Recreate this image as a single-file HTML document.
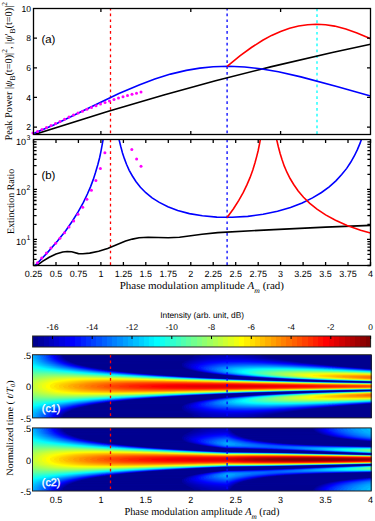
<!DOCTYPE html><html><head><meta charset="utf-8"><style>html,body{margin:0;padding:0;background:#fff}body{width:375px;height:521px;position:relative;overflow:hidden}.hm{position:absolute;left:32px;width:340px}.hm div{height:1px}svg{position:absolute;left:0;top:0;text-rendering:geometricPrecision}text{font-family:"Liberation Sans",sans-serif}.sf{font-family:"Liberation Serif",serif;stroke:none}</style></head><body>
<div class="hm" style="top:355px"><div style="background:linear-gradient(90deg,#00afff 0.5px,#00afff 1.5px,#009fff 2.5px,#009fff 3.5px,#008fff 4.5px,#008fff 5.5px,#0080ff 6.5px,#0080ff 7.5px,#0070ff 8.5px,#0070ff 9.5px,#0060ff 10.5px,#0060ff 11.5px,#0050ff 12.5px,#0050ff 13.5px,#0033ff 15.5px,#0030ff 16.5px,#0020ff 17.5px,#0020ff 18.5px,#0000ff 20.5px,#0000ff 21.5px,#0000e2 23.5px,#0000df 24.5px,#0000bf 26.5px,#0000bf 27.5px,#000093 30.5px,#00008f 161.5px,#00009f 163.5px,#00009f 168.5px,#0000af 169.5px,#0000b2 178.5px,#0000bf 181.5px,#0000bf 210.5px,#0000af 213.5px,#0000af 221.5px,#00009f 223.5px,#00009f 228.5px,#00008f 230.5px,#00008f 339.5px)"></div><div style="background:linear-gradient(90deg,#00b2ff 0.5px,#009cff 4.5px,#0063ff 10.5px,#0060ff 11.5px,#0050ff 12.5px,#0050ff 13.5px,#0040ff 14.5px,#0040ff 15.5px,#0026ff 17.5px,#0010ff 19.5px,#0010ff 20.5px,#0000ff 21.5px,#0000ef 22.5px,#0000ef 23.5px,#0000cf 25.5px,#0000cf 26.5px,#0000a6 29.5px,#00008f 31.5px,#00008f 160.5px,#00009f 162.5px,#00009f 166.5px,#0000af 168.5px,#0000b6 176.5px,#0000bf 180.5px,#0000bc 213.5px,#0000af 219.5px,#0000a9 224.5px,#00009f 228.5px,#000099 231.5px,#00008f 235.5px,#00008f 339.5px)"></div><div style="background:linear-gradient(90deg,#00bfff 0.5px,#00afff 1.5px,#00afff 2.5px,#009fff 3.5px,#009fff 4.5px,#008fff 5.5px,#008fff 6.5px,#0080ff 7.5px,#0080ff 8.5px,#0070ff 9.5px,#0070ff 10.5px,#0060ff 11.5px,#0060ff 12.5px,#0049ff 14.5px,#0033ff 16.5px,#0030ff 17.5px,#0020ff 18.5px,#0010ff 20.5px,#0000ff 22.5px,#0000e6 24.5px,#0000af 29.5px,#000096 31.5px,#00008f 35.5px,#000093 159.5px,#00009f 161.5px,#0000a6 165.5px,#0000af 169.5px,#0000b9 173.5px,#0000cf 194.5px,#0000c6 209.5px,#0000b6 221.5px,#00009c 234.5px,#00008f 238.5px,#00008f 339.5px)"></div><div style="background:linear-gradient(90deg,#00bfff 0.5px,#0050ff 14.5px,#0030ff 18.5px,#001aff 20.5px,#0003ff 22.5px,#0000ef 24.5px,#00008f 33.5px,#000093 157.5px,#00009f 159.5px,#0000a9 163.5px,#0000bf 173.5px,#0000cf 184.5px,#0000d2 204.5px,#0000c9 218.5px,#00009c 238.5px,#00008f 246.5px,#00008f 339.5px)"></div><div style="background:linear-gradient(90deg,#00bfff 0.5px,#00bfff 1.5px,#009fff 5.5px,#0050ff 15.5px,#0000fc 24.5px,#00008f 34.5px,#000093 155.5px,#00009f 157.5px,#0000a6 160.5px,#0000b9 166.5px,#0000d2 178.5px,#0000e2 194.5px,#0000dc 215.5px,#0000c2 231.5px,#00008f 250.5px,#00008f 339.5px)"></div><div style="background:linear-gradient(90deg,#00cfff 0.5px,#00bfff 1.5px,#00b6ff 3.5px,#009cff 7.5px,#000dff 24.5px,#0000f9 26.5px,#00008f 36.5px,#000093 153.5px,#0000b2 161.5px,#0000df 177.5px,#0000f2 197.5px,#0000f2 213.5px,#0000e9 219.5px,#0000cc 235.5px,#0000af 246.5px,#00008f 256.5px,#00008f 339.5px)"></div><div style="background:linear-gradient(90deg,#00cfff 0.5px,#00cfff 1.5px,#00bfff 3.5px,#0059ff 17.5px,#0003ff 27.5px,#0000a3 36.5px,#00008f 38.5px,#00008f 151.5px,#00009f 153.5px,#0000a3 155.5px,#0000af 157.5px,#0000e9 175.5px,#0003ff 192.5px,#0006ff 212.5px,#0000f5 229.5px,#0000cf 245.5px,#00008f 264.5px,#00008f 339.5px)"></div><div style="background:linear-gradient(90deg,#00dcff 0.5px,#00bfff 4.5px,#00b6ff 6.5px,#0053ff 20.5px,#0006ff 29.5px,#0000d9 33.5px,#000093 40.5px,#00008f 150.5px,#00009f 152.5px,#00009f 153.5px,#0000af 155.5px,#0000b6 157.5px,#0000bf 159.5px,#0000ef 172.5px,#0003ff 180.5px,#001aff 195.5px,#0020ff 215.5px,#001aff 219.5px,#000dff 231.5px,#0000f2 243.5px,#0000cc 257.5px,#0000bc 260.5px,#0000ac 265.5px,#000096 269.5px,#00008f 287.5px,#00008f 339.5px)"></div><div style="background:linear-gradient(90deg,#00e2ff 0.5px,#00afff 9.5px,#0056ff 22.5px,#0003fc 32.5px,#0000c6 38.5px,#000093 43.5px,#00008f 149.5px,#00009f 150.5px,#0000a3 152.5px,#0000af 153.5px,#0000b6 155.5px,#0000bf 157.5px,#0000f5 170.5px,#000aff 176.5px,#0029ff 191.5px,#0039ff 207.5px,#0033ff 226.5px,#0016ff 243.5px,#0003f9 254.5px,#0000ec 259.5px,#0000dc 262.5px,#0000a6 275.5px,#00008f 282.5px,#00008f 339.5px)"></div><div style="background:linear-gradient(90deg,#00efff 0.5px,#0096ff 16.5px,#0076ff 21.5px,#0056ff 25.5px,#0006fc 35.5px,#0000dc 39.5px,#00009c 45.5px,#00008f 48.5px,#00008f 149.5px,#00009f 150.5px,#00009f 151.5px,#0000af 152.5px,#0000b6 154.5px,#0000cf 158.5px,#0000d9 160.5px,#0000ff 169.5px,#0036ff 186.5px,#0049ff 198.5px,#0056ff 211.5px,#0050ff 231.5px,#0046ff 237.5px,#0036ff 246.5px,#001aff 258.5px,#0003f5 267.5px,#0000d6 276.5px,#000099 288.5px,#00008f 296.5px,#00008f 339.5px)"></div><div style="background:linear-gradient(90deg,#00fcff 0.5px,#009cff 18.5px,#0053ff 29.5px,#0003fc 39.5px,#0000cf 44.5px,#000096 50.5px,#00008f 54.5px,#00008f 149.5px,#00009f 150.5px,#00009f 151.5px,#0000af 152.5px,#0000af 153.5px,#0000bf 154.5px,#0000bf 156.5px,#0000cf 157.5px,#0000cf 158.5px,#0000df 160.5px,#0000df 161.5px,#0000ef 163.5px,#0000ef 164.5px,#0000ff 166.5px,#000aff 168.5px,#004cff 187.5px,#0069ff 202.5px,#0076ff 216.5px,#0073ff 236.5px,#006cff 240.5px,#0043ff 260.5px,#0020ff 271.5px,#000afc 278.5px,#0000d2 288.5px,#0000a3 296.5px,#00008f 304.5px,#00008f 339.5px)"></div><div style="background:linear-gradient(90deg,#06fff9 0.5px,#00f5ff 4.5px,#00b6ff 18.5px,#005cff 32.5px,#0006fc 43.5px,#0000e9 46.5px,#000099 54.5px,#00008f 58.5px,#00008f 149.5px,#0000bf 155.5px,#0000cf 157.5px,#0000cf 158.5px,#0000df 159.5px,#0000df 160.5px,#0000ef 162.5px,#0000ef 163.5px,#0000ff 164.5px,#0003ff 166.5px,#0010ff 167.5px,#0013ff 169.5px,#0043ff 179.5px,#0079ff 196.5px,#0080ff 200.5px,#0099ff 218.5px,#0099ff 237.5px,#007cff 257.5px,#0053ff 273.5px,#0013fc 290.5px,#000af5 292.5px,#0003ec 296.5px,#0000df 298.5px,#0000df 299.5px,#0000cf 300.5px,#0000c6 302.5px,#0000bf 304.5px,#0000af 305.5px,#0000af 306.5px,#0000a3 307.5px,#00008f 315.5px,#00008f 339.5px)"></div><div style="background:linear-gradient(90deg,#13ffec 0.5px,#00f9ff 7.5px,#00bfff 20.5px,#0063ff 36.5px,#0006fc 48.5px,#0000df 52.5px,#000099 59.5px,#00008f 63.5px,#00008f 150.5px,#0000ef 162.5px,#0000ef 163.5px,#0000ff 164.5px,#0000ff 165.5px,#0010ff 166.5px,#0010ff 168.5px,#0020ff 169.5px,#0023ff 171.5px,#0030ff 172.5px,#0036ff 174.5px,#0040ff 176.5px,#0079ff 189.5px,#00a6ff 205.5px,#00bfff 225.5px,#00bfff 245.5px,#00afff 259.5px,#0079ff 280.5px,#0060ff 287.5px,#0056ff 289.5px,#0050ff 292.5px,#0040ff 294.5px,#0039ff 296.5px,#0030ff 298.5px,#0030ff 299.5px,#0020ff 300.5px,#0020ff 302.5px,#0013fc 303.5px,#000af5 307.5px,#0000c6 315.5px,#000099 322.5px,#00008f 330.5px,#00008f 339.5px)"></div><div style="background:linear-gradient(90deg,#20ffdf 0.5px,#00fcff 11.5px,#00d6ff 21.5px,#0093ff 34.5px,#004cff 45.5px,#000af9 54.5px,#0000dc 58.5px,#000099 65.5px,#00008f 71.5px,#00008f 152.5px,#0000ff 165.5px,#0010ff 167.5px,#0010ff 168.5px,#0020ff 170.5px,#0030ff 172.5px,#0030ff 173.5px,#0040ff 174.5px,#0040ff 176.5px,#0050ff 177.5px,#0053ff 179.5px,#0060ff 180.5px,#0063ff 182.5px,#0070ff 184.5px,#0079ff 186.5px,#00b6ff 202.5px,#00d9ff 218.5px,#00e9ff 230.5px,#00e9ff 254.5px,#00c6ff 276.5px,#00a6ff 287.5px,#009cff 291.5px,#008fff 292.5px,#008fff 295.5px,#0080ff 296.5px,#0080ff 299.5px,#0070ff 300.5px,#0070ff 302.5px,#0060ff 304.5px,#0059ff 306.5px,#0016fc 318.5px,#0003e6 324.5px,#0000a9 332.5px,#000093 339.5px)"></div><div style="background:linear-gradient(90deg,#2dffd2 0.5px,#03fcfc 17.5px,#00efff 21.5px,#00b2ff 35.5px,#0080ff 44.5px,#0023ff 57.5px,#000af5 61.5px,#0000dc 65.5px,#0000bf 67.5px,#0000bf 68.5px,#0000a3 70.5px,#000099 72.5px,#00008f 76.5px,#000093 155.5px,#0000a3 157.5px,#0000e6 164.5px,#0000fc 167.5px,#0040ff 175.5px,#0040ff 176.5px,#0050ff 178.5px,#0060ff 180.5px,#0060ff 181.5px,#0070ff 183.5px,#0070ff 184.5px,#0080ff 185.5px,#0080ff 187.5px,#008fff 189.5px,#0099ff 191.5px,#00d6ff 207.5px,#00e9ff 213.5px,#03fcfc 222.5px,#13ffec 239.5px,#1dffe2 249.5px,#0dfcf2 274.5px,#03f2fc 284.5px,#03ecfc 288.5px,#00dfff 292.5px,#00d9ff 295.5px,#00cfff 297.5px,#00cfff 299.5px,#00bfff 301.5px,#00b9ff 304.5px,#00afff 306.5px,#00a9ff 308.5px,#009fff 310.5px,#003dff 328.5px,#001af9 333.5px,#0006e2 339.5px)"></div><div style="background:linear-gradient(90deg,#39ffc6 0.5px,#1dffe2 14.5px,#00f9ff 26.5px,#00ccff 38.5px,#0073ff 54.5px,#0013fc 67.5px,#0003ec 70.5px,#0003ec 71.5px,#0000cf 73.5px,#0000cf 74.5px,#0000b2 76.5px,#00008f 82.5px,#000093 159.5px,#0000c2 164.5px,#0000dc 166.5px,#0003fc 170.5px,#0059ff 181.5px,#008fff 189.5px,#008fff 190.5px,#009fff 191.5px,#009fff 193.5px,#00afff 194.5px,#00afff 196.5px,#00bfff 197.5px,#00bfff 199.5px,#00cfff 201.5px,#00d2ff 203.5px,#00dfff 205.5px,#03fffc 215.5px,#30ffcf 232.5px,#43ffbc 248.5px,#49ffb6 266.5px,#39ffc6 285.5px,#30ffcf 291.5px,#20ffdf 296.5px,#20ffdf 300.5px,#13fcec 301.5px,#13fcec 305.5px,#0af5f5 309.5px,#00d2ff 320.5px,#0093ff 332.5px,#007cff 336.5px,#006cff 339.5px)"></div><div style="background:linear-gradient(90deg,#46ffb9 0.5px,#30ffcf 17.5px,#06fcf9 34.5px,#00ecff 40.5px,#00dcff 43.5px,#00a6ff 55.5px,#0050ff 68.5px,#0030ff 72.5px,#0020ff 73.5px,#0020ff 74.5px,#0013fc 75.5px,#0003ec 79.5px,#000099 88.5px,#00008f 94.5px,#000093 163.5px,#0000bc 168.5px,#0000e2 171.5px,#000dff 175.5px,#0066ff 185.5px,#00cfff 201.5px,#00d9ff 203.5px,#00efff 208.5px,#00efff 209.5px,#00ffff 210.5px,#00ffff 212.5px,#10ffef 214.5px,#10ffef 216.5px,#20ffdf 219.5px,#49ffb6 232.5px,#73ff8c 253.5px,#73ff8c 258.5px,#7cff83 264.5px,#7cff83 278.5px,#69ff96 298.5px,#60ff9f 302.5px,#60ff9f 306.5px,#50ffaf 307.5px,#50ffaf 312.5px,#40ffbf 316.5px,#16f9e9 330.5px,#03dffc 339.5px)"></div><div style="background:linear-gradient(90deg,#53ffac 0.5px,#46ffb9 19.5px,#1dffe2 38.5px,#13ffec 40.5px,#00f2ff 49.5px,#00a6ff 65.5px,#0080ff 71.5px,#0080ff 72.5px,#0070ff 73.5px,#0070ff 74.5px,#0060ff 75.5px,#0060ff 76.5px,#0050ff 78.5px,#0016fc 85.5px,#0003e9 89.5px,#0000a6 96.5px,#00008f 102.5px,#000093 169.5px,#0000bf 174.5px,#0000e9 177.5px,#0016ff 181.5px,#008cff 194.5px,#00ecff 208.5px,#00ffff 212.5px,#10ffef 216.5px,#20ffdf 217.5px,#20ffdf 219.5px,#30ffcf 221.5px,#30ffcf 223.5px,#40ffbf 224.5px,#46ffb9 227.5px,#89ff76 248.5px,#a3ff5c 265.5px,#acff53 271.5px,#b2ff4c 290.5px,#a6ff59 305.5px,#9cff63 315.5px,#8fff70 316.5px,#8cff73 322.5px,#59ffa6 339.5px)"></div><div style="background:linear-gradient(90deg,#60ff9f 0.5px,#60ff9f 14.5px,#49ffb6 33.5px,#3dffc2 41.5px,#33ffcc 43.5px,#06f9f9 59.5px,#00cfff 70.5px,#00bfff 72.5px,#00b9ff 74.5px,#00afff 76.5px,#009fff 78.5px,#009fff 79.5px,#008fff 80.5px,#0086ff 82.5px,#0043ff 91.5px,#0016f5 97.5px,#0003df 101.5px,#0000af 106.5px,#00008f 112.5px,#000093 175.5px,#0000a3 178.5px,#0000dc 183.5px,#0013fc 187.5px,#0020fc 188.5px,#0020ff 189.5px,#003dff 191.5px,#0079ff 197.5px,#0099ff 201.5px,#00dfff 210.5px,#06fff9 216.5px,#40ffbf 226.5px,#49ffb6 228.5px,#60ff9f 233.5px,#60ff9f 234.5px,#70ff8f 236.5px,#70ff8f 238.5px,#80ff80 240.5px,#80ff80 242.5px,#8fff70 244.5px,#99ff66 248.5px,#c9ff36 267.5px,#dcff23 280.5px,#e9ff16 298.5px,#e2ff1d 314.5px,#dfff20 324.5px,#cfff30 326.5px,#c9ff36 334.5px,#bcff43 339.5px)"></div><div style="background:linear-gradient(90deg,#70ff8f 0.5px,#73ff8c 22.5px,#63ff9c 40.5px,#2dffd2 62.5px,#0af9f5 73.5px,#00e9ff 79.5px,#00dfff 81.5px,#00dfff 82.5px,#00cfff 83.5px,#00ccff 85.5px,#00bfff 86.5px,#00b6ff 88.5px,#005cff 101.5px,#0020f9 108.5px,#0003d9 114.5px,#0000b9 117.5px,#000096 123.5px,#00008f 132.5px,#000093 183.5px,#0000a9 187.5px,#000ae9 193.5px,#0026fc 197.5px,#005cff 202.5px,#006cff 203.5px,#0070ff 204.5px,#0080ff 205.5px,#008fff 207.5px,#00f2ff 219.5px,#16ffe9 224.5px,#66ff99 237.5px,#9fff60 250.5px,#9fff60 251.5px,#afff50 253.5px,#afff50 255.5px,#bfff40 257.5px,#bfff40 260.5px,#cfff30 262.5px,#d6ff29 265.5px,#fcff03 281.5px,#ffec00 296.5px,#ffe200 302.5px,#ffdf00 331.5px,#fcec03 339.5px)"></div><div style="background:linear-gradient(90deg,#79ff86 0.5px,#89ff76 20.5px,#86ff79 39.5px,#79ff86 51.5px,#53ffac 69.5px,#29ffd6 81.5px,#20ffdf 83.5px,#1dffe2 85.5px,#13fcec 87.5px,#0af5f5 91.5px,#00d2ff 99.5px,#0083ff 111.5px,#0026f9 122.5px,#000de2 126.5px,#0000a6 134.5px,#00008f 140.5px,#000093 193.5px,#0000b9 199.5px,#000de2 203.5px,#002dfc 207.5px,#0056ff 211.5px,#0099ff 217.5px,#009cff 218.5px,#00b6ff 220.5px,#00dcff 224.5px,#03ecfc 226.5px,#13fcec 231.5px,#2dffd2 235.5px,#46ffb9 238.5px,#83ff7c 248.5px,#8cff73 250.5px,#dcff23 268.5px,#efff10 274.5px,#ffff00 277.5px,#fffc00 280.5px,#ffef00 281.5px,#ffef00 285.5px,#ffdf00 288.5px,#ffb600 311.5px,#ffac00 323.5px,#ffa600 336.5px,#ffa600 339.5px)"></div><div style="background:linear-gradient(90deg,#83ff7c 0.5px,#9cff63 16.5px,#a6ff59 32.5px,#9fff60 53.5px,#83ff7c 73.5px,#60ff9f 86.5px,#5cffa3 88.5px,#50ffaf 89.5px,#50ffaf 92.5px,#40ffbf 94.5px,#39ffc6 97.5px,#30ffcf 99.5px,#13f9ec 106.5px,#03dffc 114.5px,#00bcff 120.5px,#0070ff 130.5px,#0060ff 131.5px,#0060ff 132.5px,#0049ff 134.5px,#0023ef 139.5px,#0003c2 146.5px,#0000a6 150.5px,#00008f 157.5px,#000093 205.5px,#0000a9 209.5px,#000dd9 215.5px,#0033f9 220.5px,#0086ff 227.5px,#009cff 229.5px,#00d2ff 234.5px,#10f5ef 240.5px,#40ffbf 248.5px,#50ffaf 249.5px,#50ffaf 250.5px,#60ff9f 252.5px,#70ff8f 254.5px,#70ff8f 255.5px,#89ff76 258.5px,#e2ff1d 275.5px,#fcfc03 282.5px,#fff200 286.5px,#ffe600 288.5px,#ffbf00 301.5px,#ffbc00 303.5px,#ffaf00 305.5px,#ffaf00 309.5px,#ff9f00 311.5px,#ff9f00 316.5px,#ff9300 318.5px,#ff7600 339.5px)"></div><div style="background:linear-gradient(90deg,#8fff70 0.5px,#b9ff46 23.5px,#bfff40 32.5px,#c6ff39 36.5px,#c9ff36 54.5px,#c2ff3d 58.5px,#bcff43 70.5px,#a3ff5c 86.5px,#8fff70 95.5px,#8cff73 97.5px,#80ff80 98.5px,#80ff80 102.5px,#70ff8f 103.5px,#69ff96 107.5px,#1dfce2 125.5px,#03d9fc 135.5px,#00bcff 140.5px,#0046fc 153.5px,#001de2 159.5px,#0000b2 167.5px,#00008f 175.5px,#000093 219.5px,#0003b9 226.5px,#001adc 231.5px,#0043f9 236.5px,#00acff 245.5px,#0ae2f5 251.5px,#10ecef 253.5px,#36ffc9 260.5px,#69ff96 266.5px,#8cff73 272.5px,#9cff63 274.5px,#afff50 277.5px,#afff50 278.5px,#bfff40 279.5px,#c6ff39 281.5px,#ecff13 288.5px,#ffef00 296.5px,#ffbc00 308.5px,#ff9300 322.5px,#ff8000 329.5px,#ff7000 337.5px,#ff7000 339.5px)"></div><div style="background:linear-gradient(90deg,#99ff66 0.5px,#ccff33 23.5px,#e6ff1a 42.5px,#ecff13 73.5px,#dfff20 86.5px,#c6ff39 102.5px,#bfff40 106.5px,#bfff40 108.5px,#afff50 109.5px,#acff53 114.5px,#9fff60 117.5px,#80ff80 127.5px,#5cffa3 136.5px,#39ffc6 142.5px,#1af2e6 151.5px,#0de2f2 155.5px,#00b2ff 163.5px,#0053fc 173.5px,#0039f2 176.5px,#0030e6 178.5px,#000abf 186.5px,#00009f 192.5px,#00008f 199.5px,#000093 236.5px,#0006b9 244.5px,#0023dc 250.5px,#0059f5 256.5px,#0086ff 260.5px,#06cff9 267.5px,#13e9ec 271.5px,#26f5d9 275.5px,#40fcbf 278.5px,#8cff73 289.5px,#9cff63 291.5px,#d9ff26 301.5px,#f5f50a 308.5px,#f9ec06 310.5px,#fcec03 312.5px,#fcdf03 313.5px,#ffdf00 315.5px,#ffcf00 317.5px,#ffcf00 319.5px,#ffc200 320.5px,#ffbc00 323.5px,#ffb200 325.5px,#ffa300 330.5px,#ff9600 332.5px,#ff8600 339.5px)"></div><div style="background:linear-gradient(90deg,#9fff60 0.5px,#bfff40 10.5px,#f9ff06 36.5px,#ffec00 64.5px,#ffe600 84.5px,#f9f506 107.5px,#f5fc0a 115.5px,#ecfc13 117.5px,#e9fc16 123.5px,#dfff20 125.5px,#d6ff29 131.5px,#a9ff56 145.5px,#76ff89 158.5px,#50ffaf 166.5px,#40ffbf 168.5px,#40fcbf 169.5px,#33fccc 170.5px,#30f9cf 172.5px,#26f5d9 174.5px,#0dd6f2 182.5px,#06c6f9 185.5px,#06b9f9 186.5px,#03b9fc 187.5px,#0083ff 193.5px,#0049f2 199.5px,#0030df 203.5px,#0026d9 205.5px,#000dbc 211.5px,#00009c 219.5px,#00008f 225.5px,#000093 258.5px,#0006b2 265.5px,#0020cc 271.5px,#0053ec 278.5px,#008cff 284.5px,#10c6ef 290.5px,#23e6dc 295.5px,#5cffa3 305.5px,#8cff73 311.5px,#bfff40 319.5px,#c9ff36 321.5px,#ecf213 329.5px,#fcd603 339.5px)"></div><div style="background:linear-gradient(90deg,#acff53 0.5px,#b6ff49 4.5px,#dfff20 17.5px,#fffc00 31.5px,#ffd600 52.5px,#ffbc00 78.5px,#ffbc00 111.5px,#ffc200 115.5px,#ffcc00 123.5px,#ffd200 132.5px,#ffdf00 134.5px,#fce603 142.5px,#ecf513 156.5px,#dffc20 163.5px,#b2ff4c 176.5px,#9cff63 182.5px,#8fff70 183.5px,#8fff70 185.5px,#80ff80 186.5px,#79ff86 189.5px,#3df9c2 200.5px,#23e9dc 206.5px,#10ccef 212.5px,#039ffc 219.5px,#0089ff 221.5px,#0070f5 225.5px,#0059ef 227.5px,#0023cc 236.5px,#0006af 244.5px,#00008f 255.5px,#000093 284.5px,#0006af 292.5px,#0029cc 300.5px,#0066e9 309.5px,#0386ef 313.5px,#10a9ef 318.5px,#23d2dc 324.5px,#43efbc 331.5px,#50f2af 332.5px,#63fc9c 336.5px,#73ff8c 339.5px)"></div><div style="background:linear-gradient(90deg,#afff50 0.5px,#b9ff46 2.5px,#c6ff39 6.5px,#ffff00 24.5px,#ffc200 49.5px,#ffa600 67.5px,#ff8c00 94.5px,#ff8c00 129.5px,#ff9900 143.5px,#ff9f00 147.5px,#ffa300 154.5px,#ffaf00 155.5px,#ffb600 164.5px,#fcd903 180.5px,#f2ef0d 192.5px,#e2f51d 199.5px,#d6fc29 204.5px,#ccfc33 206.5px,#c9ff36 208.5px,#bfff40 210.5px,#83ff7c 223.5px,#79ff86 225.5px,#6cff93 226.5px,#66ff99 228.5px,#53fcac 232.5px,#30e6cf 240.5px,#16c2e9 248.5px,#0da9f2 252.5px,#068ff5 255.5px,#0040d6 268.5px,#0026c6 273.5px,#0003a9 284.5px,#00008f 295.5px,#000093 319.5px,#0003a6 325.5px,#001dbc 334.5px,#0033c9 339.5px)"></div><div style="background:linear-gradient(90deg,#afff50 0.5px,#bfff40 2.5px,#c2ff3d 4.5px,#cfff30 6.5px,#dfff20 11.5px,#e6ff1a 13.5px,#efff10 15.5px,#ffff00 20.5px,#ffef00 25.5px,#ffa300 55.5px,#ff8600 71.5px,#ff7600 83.5px,#ff5c00 110.5px,#ff5900 120.5px,#ff5900 149.5px,#ff6900 167.5px,#ff7000 171.5px,#ff7300 179.5px,#ff8000 182.5px,#ff8c00 193.5px,#ffbf00 216.5px,#fcd203 224.5px,#e9ec16 238.5px,#c2fc3d 251.5px,#bffc40 253.5px,#acff53 257.5px,#73ff8c 268.5px,#50f2af 276.5px,#39e2c6 282.5px,#26ccd9 288.5px,#13a3ec 295.5px,#067ce2 303.5px,#0369df 307.5px,#0036c9 318.5px,#0010b2 329.5px,#0000a3 339.5px)"></div><div style="background:linear-gradient(90deg,#bfff40 0.5px,#c2ff3d 3.5px,#cfff30 4.5px,#d6ff29 7.5px,#dfff20 9.5px,#e6ff1a 11.5px,#efff10 13.5px,#f2ff0d 15.5px,#ffff00 17.5px,#ffff00 19.5px,#ffef00 21.5px,#ffe600 25.5px,#ffd600 30.5px,#ff8600 60.5px,#ff4900 95.5px,#ff4600 102.5px,#ff4000 106.5px,#ff2d00 133.5px,#ff2900 163.5px,#ff3000 178.5px,#ff3900 193.5px,#ff4000 197.5px,#ff4600 206.5px,#ff5000 208.5px,#ff5600 218.5px,#ff6000 222.5px,#ff8300 242.5px,#ffa900 260.5px,#ffb200 262.5px,#ffbc00 266.5px,#fccc03 274.5px,#f5d90a 280.5px,#f2d90d 282.5px,#efe210 284.5px,#e9e616 288.5px,#dfec20 292.5px,#bff940 304.5px,#b2fc4c 308.5px,#a9fc56 310.5px,#96ff69 316.5px,#80ff80 320.5px,#70f98f 325.5px,#63f59c 327.5px,#43dfbc 337.5px,#43d9bc 339.5px)"></div><div style="background:linear-gradient(90deg,#bfff40 0.5px,#bfff40 2.5px,#cfff30 3.5px,#d2ff2d 6.5px,#dfff20 7.5px,#e6ff1a 10.5px,#efff10 12.5px,#f5ff0a 14.5px,#ffff00 16.5px,#fffc00 18.5px,#ffef00 19.5px,#ffef00 22.5px,#ffdf00 24.5px,#ffdc00 27.5px,#ffcf00 29.5px,#ffc900 32.5px,#ffbc00 37.5px,#ffaf00 39.5px,#ffa600 43.5px,#ff9600 49.5px,#ff6000 73.5px,#ff3000 100.5px,#ff2300 113.5px,#ff1a00 119.5px,#ff0600 145.5px,#fc0600 198.5px,#ff1d00 232.5px,#ff2900 244.5px,#ff3000 248.5px,#ff3900 256.5px,#ff4000 260.5px,#ff4300 266.5px,#ff5000 270.5px,#ff5900 279.5px,#ff6300 283.5px,#ff8300 300.5px,#ff9c00 313.5px,#ffb200 323.5px,#f9cc06 336.5px,#f9cf06 339.5px)"></div><div style="background:linear-gradient(90deg,#bfff40 0.5px,#c2ff3d 2.5px,#cfff30 3.5px,#cfff30 5.5px,#dfff20 6.5px,#dfff20 9.5px,#efff10 10.5px,#efff10 13.5px,#ffff00 14.5px,#ffff00 17.5px,#ffef00 18.5px,#ffef00 21.5px,#ffdf00 23.5px,#ffdf00 26.5px,#ffcf00 27.5px,#ffc900 31.5px,#ffbf00 33.5px,#ffbf00 35.5px,#ffaf00 37.5px,#ffa900 41.5px,#ff9f00 43.5px,#ff9f00 46.5px,#ff8f00 48.5px,#ff8c00 52.5px,#ff8000 54.5px,#ff7c00 58.5px,#ff7000 60.5px,#ff7000 64.5px,#ff6000 68.5px,#ff5900 72.5px,#ff5000 76.5px,#ff4600 80.5px,#ff3900 88.5px,#ff3000 94.5px,#ff2600 98.5px,#ff1a00 108.5px,#ff1000 116.5px,#ff0000 130.5px,#ef0000 152.5px,#e20000 188.5px,#ec0000 226.5px,#ff0600 263.5px,#ff0d00 272.5px,#ff1300 276.5px,#ff3d00 312.5px,#ff4600 318.5px,#ff4c00 323.5px,#ff5300 327.5px,#ff5600 333.5px,#ff6300 338.5px,#ff6300 339.5px)"></div><div style="background:linear-gradient(90deg,#bfff40 0.5px,#bfff40 1.5px,#cfff30 3.5px,#cfff30 5.5px,#dfff20 6.5px,#dfff20 9.5px,#efff10 10.5px,#efff10 13.5px,#ffff00 14.5px,#ffff00 17.5px,#ffef00 18.5px,#ffef00 21.5px,#ffdf00 22.5px,#ffdf00 26.5px,#ffcf00 27.5px,#ffcf00 30.5px,#ffbf00 31.5px,#ffbf00 35.5px,#ffaf00 36.5px,#ffaf00 40.5px,#ff9f00 41.5px,#ff9f00 46.5px,#ff8f00 47.5px,#ff8f00 51.5px,#ff8000 53.5px,#ff8000 57.5px,#ff7000 59.5px,#ff7000 64.5px,#ff6000 65.5px,#ff6000 71.5px,#ff5000 72.5px,#ff5000 78.5px,#ff4000 80.5px,#ff4000 86.5px,#ff3000 88.5px,#ff2d00 96.5px,#ff2000 97.5px,#ff2000 106.5px,#ff1000 108.5px,#ff1000 118.5px,#ff0000 120.5px,#fc0000 133.5px,#f20000 135.5px,#ef0000 153.5px,#e60000 155.5px,#df0000 173.5px,#e20000 233.5px,#ec0000 238.5px,#f50000 261.5px,#ff0000 265.5px,#ff0600 280.5px,#ff1000 284.5px,#ff1600 297.5px,#ff2000 301.5px,#ff2600 312.5px,#ff3300 317.5px,#ff3600 326.5px,#ff4300 331.5px,#ff4600 339.5px)"></div><div style="background:linear-gradient(90deg,#bfff40 0.5px,#bfff40 2.5px,#cfff30 3.5px,#cfff30 5.5px,#dfff20 7.5px,#dfff20 9.5px,#efff10 10.5px,#efff10 13.5px,#ffff00 14.5px,#ffff00 17.5px,#ffef00 19.5px,#ffe900 22.5px,#ffdf00 24.5px,#ffdf00 26.5px,#ffcf00 28.5px,#ffcf00 31.5px,#ffbf00 32.5px,#ffbc00 36.5px,#ffaf00 38.5px,#ffaf00 41.5px,#ff9f00 43.5px,#ff9900 47.5px,#ff8f00 51.5px,#ff8000 56.5px,#ff7900 59.5px,#ff7000 63.5px,#ff6900 66.5px,#ff6000 70.5px,#ff5600 74.5px,#ff4000 86.5px,#ff3000 96.5px,#ff2000 107.5px,#ff0300 132.5px,#ec0000 182.5px,#fc0600 240.5px,#ff1d00 266.5px,#ff2900 279.5px,#ff3300 285.5px,#ff3900 290.5px,#ff4000 294.5px,#ff4900 301.5px,#ff5000 305.5px,#ff5900 312.5px,#ff6000 316.5px,#ff7600 331.5px,#ff7600 333.5px,#ff8300 335.5px,#ff8300 339.5px)"></div><div style="background:linear-gradient(90deg,#bfff40 0.5px,#bfff40 2.5px,#cfff30 4.5px,#cfff30 6.5px,#dfff20 7.5px,#dfff20 10.5px,#efff10 11.5px,#efff10 14.5px,#ffff00 16.5px,#ffff00 18.5px,#ffef00 20.5px,#ffec00 23.5px,#ffdf00 25.5px,#ffd900 28.5px,#ffc900 33.5px,#ffb600 39.5px,#ff8f00 53.5px,#ff5300 82.5px,#ff3300 105.5px,#ff2000 125.5px,#ff1a00 129.5px,#ff0d00 170.5px,#ff1d00 206.5px,#ff2300 210.5px,#ff2900 219.5px,#ff3000 223.5px,#ff3600 231.5px,#ff4000 235.5px,#ff4600 243.5px,#ff5000 247.5px,#ff5900 256.5px,#ff6300 258.5px,#ff7300 268.5px,#ff8c00 282.5px,#ff9c00 288.5px,#ffbf00 303.5px,#f5d20a 313.5px,#f2d90d 317.5px,#dcec23 330.5px,#ccf533 339.5px)"></div><div style="background:linear-gradient(90deg,#b9ff46 0.5px,#bfff40 3.5px,#cfff30 5.5px,#cfff30 7.5px,#dfff20 9.5px,#dfff20 11.5px,#efff10 13.5px,#f5ff0a 16.5px,#fffc00 20.5px,#ffef00 23.5px,#ffdf00 28.5px,#ff8c00 60.5px,#ff5600 94.5px,#ff3d00 128.5px,#ff3d00 160.5px,#ff4c00 180.5px,#ff5600 193.5px,#ff6000 195.5px,#ff6600 205.5px,#ff7300 210.5px,#ff8000 218.5px,#ff9f00 234.5px,#ffbc00 245.5px,#f5d90a 258.5px,#ece213 264.5px,#dfec20 270.5px,#cff930 278.5px,#c6f939 280.5px,#a6ff59 289.5px,#86ff79 295.5px,#7cff83 297.5px,#63f59c 304.5px,#56f2a9 306.5px,#29c9d6 320.5px,#1da6e2 326.5px,#0d8fdf 333.5px,#0a73dc 339.5px)"></div><div style="background:linear-gradient(90deg,#afff50 0.5px,#bfff40 2.5px,#c6ff39 5.5px,#cfff30 7.5px,#d2ff2d 9.5px,#dfff20 11.5px,#dfff20 13.5px,#efff10 16.5px,#fffc00 23.5px,#ffb600 49.5px,#ff9600 67.5px,#ff8600 79.5px,#ff7300 100.5px,#ff6c00 113.5px,#ff6c00 139.5px,#ff7300 148.5px,#ff7900 154.5px,#ff8000 158.5px,#ff8300 166.5px,#ff8f00 169.5px,#ff9600 177.5px,#ffaf00 190.5px,#f9e206 212.5px,#e9f216 221.5px,#dff220 225.5px,#d2f92d 229.5px,#b2ff4c 238.5px,#99ff66 243.5px,#99ff66 244.5px,#8cff73 245.5px,#79ff86 249.5px,#50f5af 258.5px,#26d6d9 268.5px,#0da3f2 277.5px,#005cdf 289.5px,#0050d6 292.5px,#0029c2 300.5px,#0010b6 307.5px,#0000a6 314.5px,#00008f 325.5px,#00008f 339.5px)"></div><div style="background:linear-gradient(90deg,#afff50 0.5px,#bfff40 5.5px,#ffff00 25.5px,#ffc600 52.5px,#ffa300 82.5px,#ffa300 87.5px,#ff9c00 91.5px,#ffa300 126.5px,#ffaf00 137.5px,#ffaf00 142.5px,#ffbf00 144.5px,#ffc600 153.5px,#ffd200 158.5px,#f2ef0d 176.5px,#d2fc2d 189.5px,#ccff33 192.5px,#bfff40 194.5px,#b9ff46 196.5px,#afff50 198.5px,#96ff69 204.5px,#89ff76 206.5px,#83ff7c 208.5px,#46f9b9 219.5px,#30eccf 225.5px,#26e2d9 227.5px,#16cce9 232.5px,#0daff2 236.5px,#0aaff5 237.5px,#068ff9 240.5px,#0386f5 242.5px,#0030cf 255.5px,#0010b9 263.5px,#00009f 271.5px,#00008f 278.5px,#000093 304.5px,#0006a9 311.5px,#0020bf 319.5px,#0040d2 325.5px,#0069e2 331.5px,#0d99e9 339.5px)"></div><div style="background:linear-gradient(90deg,#a6ff59 0.5px,#b6ff49 5.5px,#ecff13 24.5px,#fffc00 34.5px,#ffe600 49.5px,#ffd200 68.5px,#ffcc00 86.5px,#ffd900 113.5px,#ffe600 123.5px,#fcec03 127.5px,#fcec03 131.5px,#f5f50a 135.5px,#e2fc1d 147.5px,#afff50 163.5px,#99ff66 169.5px,#8cff73 171.5px,#8cff73 172.5px,#80ff80 173.5px,#70ff8f 178.5px,#4cffb2 184.5px,#23efdc 193.5px,#06b6f9 204.5px,#008cff 209.5px,#007cff 210.5px,#004cec 216.5px,#0040df 219.5px,#0029d6 222.5px,#0010bf 228.5px,#00009f 236.5px,#00008f 243.5px,#000093 273.5px,#0006af 280.5px,#0016c2 285.5px,#0049df 293.5px,#0693f9 302.5px,#0aa9f5 304.5px,#23d9dc 311.5px,#53f9ac 320.5px,#8cff73 329.5px,#a6ff59 332.5px,#a6ff59 333.5px,#b6ff49 335.5px,#c9fc36 339.5px)"></div><div style="background:linear-gradient(90deg,#9fff60 0.5px,#d9ff26 23.5px,#f9ff06 44.5px,#fcf503 84.5px,#effc10 100.5px,#e6ff1a 108.5px,#dfff20 112.5px,#dfff20 115.5px,#cfff30 116.5px,#cfff30 121.5px,#bfff40 125.5px,#8cff73 141.5px,#56ffa9 153.5px,#33fccc 159.5px,#30f9cf 161.5px,#26f9d9 163.5px,#06cff9 173.5px,#009cff 180.5px,#0060fc 186.5px,#0023d6 195.5px,#000dc2 200.5px,#00009c 208.5px,#00008f 214.5px,#000093 249.5px,#0006b2 256.5px,#0026d9 263.5px,#0049e6 267.5px,#0063f5 270.5px,#0096ff 275.5px,#06c2f9 279.5px,#29efd6 287.5px,#30f5cf 289.5px,#3df9c2 290.5px,#3df9c2 291.5px,#5cffa3 295.5px,#acff53 306.5px,#bcff43 308.5px,#bcff43 309.5px,#ccff33 311.5px,#f2ef0d 321.5px,#ffd200 330.5px,#ffc200 333.5px,#ffb900 335.5px,#ffaf00 339.5px)"></div><div style="background:linear-gradient(90deg,#93ff6c 0.5px,#9fff60 4.5px,#c9ff36 26.5px,#d9ff26 42.5px,#d9ff26 73.5px,#b2ff4c 97.5px,#acff53 102.5px,#9fff60 103.5px,#9cff63 108.5px,#8fff70 109.5px,#8cff73 113.5px,#7cff83 117.5px,#4cffb2 129.5px,#2dffd2 135.5px,#0decf2 144.5px,#06d9f9 148.5px,#03ccfc 149.5px,#00b9ff 153.5px,#0053fc 164.5px,#0046f9 166.5px,#0036ef 168.5px,#0013cf 174.5px,#0000a3 182.5px,#00008f 190.5px,#000093 229.5px,#0000a3 233.5px,#000ac6 238.5px,#0026df 243.5px,#0060fc 249.5px,#00b9ff 257.5px,#0ddcf2 261.5px,#26f9d9 267.5px,#3dffc2 270.5px,#3dffc2 271.5px,#8cff73 281.5px,#bcff43 289.5px,#ccff33 291.5px,#ccff33 292.5px,#dcff23 294.5px,#f5f50a 301.5px,#fcec03 305.5px,#ffe200 307.5px,#ffd200 311.5px,#ffac00 320.5px,#ffa600 323.5px,#ff9c00 325.5px,#ff7600 338.5px,#ff7600 339.5px)"></div><div style="background:linear-gradient(90deg,#8cff73 0.5px,#b6ff49 27.5px,#b9ff46 54.5px,#b2ff4c 58.5px,#9fff60 75.5px,#7cff83 92.5px,#70ff8f 93.5px,#70ff8f 97.5px,#60ff9f 98.5px,#59ffa6 102.5px,#50ffaf 104.5px,#16f9e9 118.5px,#03dffc 126.5px,#00acff 134.5px,#0059ff 143.5px,#0030f5 148.5px,#0010d2 154.5px,#0000ac 160.5px,#00008f 167.5px,#000093 213.5px,#0000ac 218.5px,#0013d9 224.5px,#003df9 229.5px,#008cff 236.5px,#03d6fc 243.5px,#13f2ec 248.5px,#3dffc2 255.5px,#5cffa3 259.5px,#8fff70 266.5px,#8fff70 267.5px,#9fff60 269.5px,#e9ff16 282.5px,#fcf203 290.5px,#ffb200 308.5px,#ff9f00 316.5px,#ff9300 318.5px,#ff8f00 323.5px,#ff8000 325.5px,#ff8000 330.5px,#ff7000 334.5px,#ff7000 339.5px)"></div><div style="background:linear-gradient(90deg,#80ff80 0.5px,#96ff69 18.5px,#96ff69 44.5px,#83ff7c 61.5px,#73ff8c 70.5px,#50ffaf 82.5px,#40ffbf 87.5px,#40ffbf 88.5px,#30ffcf 89.5px,#30ffcf 92.5px,#20ffdf 94.5px,#20fcdf 96.5px,#13fcec 98.5px,#03e2fc 106.5px,#00bcff 113.5px,#0060ff 125.5px,#0050ff 126.5px,#0050ff 127.5px,#0040ff 128.5px,#0033fc 130.5px,#0026f9 131.5px,#001def 133.5px,#0003c6 139.5px,#000096 147.5px,#00008f 156.5px,#000093 200.5px,#0000b2 205.5px,#000ddf 210.5px,#0033fc 215.5px,#00b2ff 226.5px,#00d9ff 230.5px,#0af5f5 235.5px,#13fcec 237.5px,#20fcdf 238.5px,#29ffd6 240.5px,#49ffb6 244.5px,#a9ff56 260.5px,#ffff00 280.5px,#ffdf00 289.5px,#ffdc00 291.5px,#ffcf00 293.5px,#ffc900 297.5px,#ffbf00 299.5px,#ffbc00 303.5px,#ffaf00 307.5px,#ff9c00 317.5px,#ff8c00 334.5px,#ff8600 339.5px)"></div><div style="background:linear-gradient(90deg,#73ff8c 0.5px,#83ff7c 20.5px,#76ff89 40.5px,#60ff9f 54.5px,#43ffbc 66.5px,#1affe6 78.5px,#13fcec 81.5px,#0af5f5 83.5px,#0af5f5 85.5px,#03ecfc 87.5px,#03ecfc 88.5px,#00dfff 89.5px,#00dcff 91.5px,#0089ff 104.5px,#002dfc 115.5px,#0013ec 119.5px,#0000bf 125.5px,#0000a3 129.5px,#000093 133.5px,#000093 189.5px,#0000ac 193.5px,#0006df 198.5px,#0020f9 202.5px,#0080ff 211.5px,#00acff 215.5px,#00afff 216.5px,#00bfff 217.5px,#00bfff 218.5px,#00d6ff 220.5px,#03f5fc 224.5px,#29ffd6 231.5px,#80ff80 245.5px,#bfff40 259.5px,#dfff20 268.5px,#e9ff16 270.5px,#efff10 274.5px,#ffff00 277.5px,#fff500 281.5px,#ffcc00 303.5px,#ffbc00 324.5px,#ffbc00 335.5px,#ffbf00 339.5px)"></div><div style="background:linear-gradient(90deg,#69ff96 0.5px,#69ff96 22.5px,#4cffb2 44.5px,#0afcf5 66.5px,#00e9ff 73.5px,#00dfff 75.5px,#00cfff 77.5px,#00cfff 79.5px,#00bfff 80.5px,#00bfff 82.5px,#00afff 83.5px,#00a6ff 85.5px,#009cff 87.5px,#008cff 89.5px,#0040ff 99.5px,#0020f9 103.5px,#0006df 108.5px,#0000b6 112.5px,#000096 117.5px,#00008f 130.5px,#000093 180.5px,#0000b6 185.5px,#0003e6 189.5px,#0016fc 192.5px,#006cff 200.5px,#0070ff 201.5px,#0089ff 203.5px,#00f2ff 216.5px,#0dfff2 220.5px,#49ffb6 230.5px,#80ff80 241.5px,#89ff76 243.5px,#96ff69 247.5px,#9fff60 249.5px,#9fff60 251.5px,#afff50 252.5px,#afff50 255.5px,#bfff40 258.5px,#c9ff36 262.5px,#e9ff16 276.5px,#f9fc06 287.5px,#fcf903 297.5px,#fcf203 301.5px,#f9f506 325.5px,#f2f50d 336.5px,#ecfc13 339.5px)"></div><div style="background:linear-gradient(90deg,#5cffa3 0.5px,#53ffac 19.5px,#30ffcf 38.5px,#2dffd2 41.5px,#23ffdc 43.5px,#06f9f9 54.5px,#00d2ff 64.5px,#00afff 70.5px,#00a6ff 72.5px,#009fff 74.5px,#008fff 75.5px,#0086ff 77.5px,#0080ff 79.5px,#0070ff 80.5px,#0070ff 81.5px,#0060ff 82.5px,#0060ff 83.5px,#001dfc 91.5px,#000ae9 95.5px,#0000b2 101.5px,#000096 105.5px,#00008f 118.5px,#000093 173.5px,#0000bf 178.5px,#0003e9 181.5px,#000af5 183.5px,#002dff 187.5px,#008cff 197.5px,#00e6ff 209.5px,#03fffc 214.5px,#30ffcf 222.5px,#39ffc6 224.5px,#50ffaf 229.5px,#59ffa6 231.5px,#60ff9f 234.5px,#70ff8f 236.5px,#76ff89 239.5px,#a9ff56 256.5px,#c2ff3d 272.5px,#ccff33 278.5px,#d6ff29 297.5px,#c6ff39 315.5px,#bfff40 319.5px,#bcff43 324.5px,#afff50 327.5px,#a6ff59 333.5px,#96ff69 339.5px)"></div><div style="background:linear-gradient(90deg,#50ffaf 0.5px,#3dffc2 17.5px,#16ffe9 34.5px,#03f9fc 42.5px,#00bfff 56.5px,#0079ff 68.5px,#0070ff 70.5px,#0060ff 71.5px,#0060ff 72.5px,#0050ff 73.5px,#0050ff 74.5px,#0040ff 75.5px,#0040ff 76.5px,#0030ff 77.5px,#0030ff 78.5px,#0013fc 81.5px,#0003e9 85.5px,#0000d9 87.5px,#0000b6 90.5px,#000096 95.5px,#00008f 104.5px,#000093 166.5px,#0000a3 169.5px,#0000ec 175.5px,#0016ff 179.5px,#0043ff 184.5px,#0053ff 185.5px,#00b9ff 199.5px,#00dfff 205.5px,#00dfff 206.5px,#00efff 208.5px,#00efff 209.5px,#00ffff 211.5px,#00ffff 212.5px,#10ffef 214.5px,#10ffef 216.5px,#20ffdf 217.5px,#20ffdf 219.5px,#30ffcf 221.5px,#30ffcf 223.5px,#40ffbf 225.5px,#46ffb9 228.5px,#79ff86 246.5px,#93ff6c 263.5px,#9cff63 281.5px,#93ff6c 297.5px,#89ff76 306.5px,#80ff80 308.5px,#7cff83 314.5px,#70ff8f 317.5px,#66ff99 322.5px,#2dffd2 339.5px)"></div><div style="background:linear-gradient(90deg,#40ffbf 0.5px,#23ffdc 18.5px,#00f9ff 32.5px,#00ecff 36.5px,#00dcff 39.5px,#0096ff 54.5px,#003dff 67.5px,#0013fc 72.5px,#0003ec 75.5px,#0000df 77.5px,#00009c 84.5px,#00008f 88.5px,#000093 161.5px,#0000a9 164.5px,#0000f2 171.5px,#0013ff 174.5px,#007cff 187.5px,#00afff 195.5px,#00afff 196.5px,#00bfff 198.5px,#00bfff 199.5px,#00cfff 200.5px,#00cfff 202.5px,#00dfff 204.5px,#00e6ff 206.5px,#00efff 208.5px,#00f9ff 210.5px,#0afff5 214.5px,#40ffbf 232.5px,#63ff9c 254.5px,#69ff96 274.5px,#53ffac 293.5px,#4cffb2 299.5px,#40ffbf 302.5px,#40ffbf 306.5px,#30ffcf 307.5px,#30ffcf 311.5px,#20ffdf 315.5px,#0aecf5 326.5px,#00ccff 335.5px,#00bcff 337.5px,#00b2ff 339.5px)"></div><div style="background:linear-gradient(90deg,#33ffcc 0.5px,#1dffe2 11.5px,#03fcfc 21.5px,#00d2ff 33.5px,#00acff 41.5px,#0066ff 53.5px,#0036ff 59.5px,#000af9 65.5px,#0000df 69.5px,#0000cf 70.5px,#0000cf 71.5px,#0000af 73.5px,#000096 77.5px,#00008f 86.5px,#000093 157.5px,#00009f 159.5px,#0000e9 166.5px,#0006ff 169.5px,#0060ff 181.5px,#0070ff 183.5px,#0079ff 185.5px,#0080ff 187.5px,#008fff 188.5px,#008fff 190.5px,#009fff 191.5px,#009fff 193.5px,#00afff 194.5px,#00afff 196.5px,#00bfff 198.5px,#00c2ff 200.5px,#00cfff 202.5px,#03fffc 217.5px,#23ffdc 232.5px,#33ffcc 248.5px,#33ffcc 270.5px,#16ffe9 288.5px,#10fcef 294.5px,#0af5f5 298.5px,#03e6fc 305.5px,#00d9ff 309.5px,#008fff 325.5px,#005cff 333.5px,#0053ff 335.5px,#0039ff 339.5px)"></div><div style="background:linear-gradient(90deg,#26ffd9 0.5px,#00fcff 15.5px,#00c2ff 29.5px,#00a3ff 35.5px,#008cff 39.5px,#0046ff 50.5px,#000dfc 57.5px,#0000e6 61.5px,#0000bf 65.5px,#0000a6 67.5px,#000093 71.5px,#000093 154.5px,#0000f5 165.5px,#0006ff 167.5px,#0020ff 170.5px,#0020ff 171.5px,#0040ff 175.5px,#0040ff 176.5px,#0050ff 177.5px,#0056ff 179.5px,#0060ff 181.5px,#0070ff 183.5px,#0079ff 185.5px,#008fff 190.5px,#00c6ff 204.5px,#00efff 220.5px,#06fcf9 236.5px,#0afcf5 259.5px,#00e6ff 279.5px,#00ccff 290.5px,#00bfff 292.5px,#00bfff 295.5px,#00afff 296.5px,#00afff 299.5px,#009fff 300.5px,#009fff 303.5px,#008fff 305.5px,#0060ff 315.5px,#001af9 327.5px,#0000d2 335.5px,#0000b9 339.5px)"></div><div style="background:linear-gradient(90deg,#1dffe2 0.5px,#00fcff 9.5px,#00c6ff 22.5px,#006cff 38.5px,#000dfc 51.5px,#0000e2 55.5px,#00009c 62.5px,#00008f 66.5px,#00008f 151.5px,#0000ff 165.5px,#0010ff 167.5px,#0010ff 168.5px,#0020ff 169.5px,#0029ff 171.5px,#0030ff 173.5px,#0040ff 174.5px,#0040ff 176.5px,#0050ff 178.5px,#0050ff 179.5px,#0060ff 181.5px,#00a3ff 199.5px,#00b9ff 208.5px,#00d2ff 224.5px,#00dcff 236.5px,#00d2ff 255.5px,#00b6ff 272.5px,#0086ff 288.5px,#0080ff 291.5px,#0070ff 293.5px,#0070ff 295.5px,#0060ff 296.5px,#0060ff 299.5px,#0050ff 300.5px,#0050ff 302.5px,#0040ff 303.5px,#0040ff 305.5px,#0030ff 307.5px,#0013f9 313.5px,#0003e6 318.5px,#0000d6 321.5px,#0000b6 325.5px,#000093 332.5px,#00008f 339.5px)"></div><div style="background:linear-gradient(90deg,#10ffef 0.5px,#00fcff 5.5px,#00c2ff 18.5px,#0053ff 36.5px,#0006fc 46.5px,#0000d6 51.5px,#000099 57.5px,#00008f 61.5px,#00008f 150.5px,#0000af 153.5px,#0000bf 155.5px,#0000bf 156.5px,#0000cf 157.5px,#0000cf 158.5px,#0000df 159.5px,#0000df 160.5px,#0000ef 162.5px,#0000ef 163.5px,#0000ff 164.5px,#0000ff 165.5px,#0010ff 167.5px,#0010ff 168.5px,#0020ff 170.5px,#0020ff 171.5px,#0030ff 173.5px,#0039ff 175.5px,#0076ff 191.5px,#0099ff 205.5px,#00acff 219.5px,#00b2ff 239.5px,#009fff 256.5px,#007cff 270.5px,#004cff 285.5px,#0029ff 293.5px,#0020ff 295.5px,#0020ff 296.5px,#0013fc 297.5px,#0013fc 299.5px,#000af5 301.5px,#0003ec 304.5px,#0000df 305.5px,#0000d9 307.5px,#0000cf 309.5px,#0000af 313.5px,#000093 319.5px,#00008f 339.5px)"></div><div style="background:linear-gradient(90deg,#00ffff 0.5px,#00c2ff 14.5px,#0096ff 22.5px,#0086ff 24.5px,#0020ff 38.5px,#0006fc 41.5px,#0000ec 44.5px,#000099 52.5px,#00008f 56.5px,#00008f 149.5px,#00009f 150.5px,#00009f 151.5px,#0000af 152.5px,#0000af 153.5px,#0000bf 154.5px,#0000c2 156.5px,#0000cf 157.5px,#0000cf 158.5px,#0000df 159.5px,#0000e6 161.5px,#0000ff 165.5px,#000aff 167.5px,#004cff 183.5px,#0076ff 199.5px,#008cff 219.5px,#008cff 236.5px,#0083ff 240.5px,#0073ff 252.5px,#0060ff 261.5px,#0033ff 275.5px,#000af9 286.5px,#0000ec 291.5px,#0000bf 298.5px,#0000bf 299.5px,#0000af 301.5px,#000093 307.5px,#00008f 339.5px)"></div><div style="background:linear-gradient(90deg,#00f5ff 0.5px,#00a3ff 16.5px,#0076ff 23.5px,#0066ff 25.5px,#0006fc 37.5px,#0000e9 40.5px,#0000ac 46.5px,#000096 48.5px,#00008f 57.5px,#00008f 149.5px,#00009f 150.5px,#00009f 151.5px,#0000af 152.5px,#0000af 153.5px,#0000bf 154.5px,#0000bf 156.5px,#0000cf 157.5px,#0000d6 159.5px,#0000ef 163.5px,#0003ff 168.5px,#003dff 184.5px,#0059ff 197.5px,#0069ff 213.5px,#0066ff 229.5px,#0063ff 236.5px,#005cff 240.5px,#002dff 261.5px,#000afc 272.5px,#0000e2 280.5px,#000099 294.5px,#00008f 302.5px,#00008f 339.5px)"></div><div style="background:linear-gradient(90deg,#00ecff 0.5px,#0083ff 18.5px,#001aff 31.5px,#0000f5 35.5px,#000096 44.5px,#00008f 53.5px,#00008f 149.5px,#00009f 150.5px,#00009f 151.5px,#0000af 153.5px,#0000af 154.5px,#0000bf 155.5px,#0000c2 157.5px,#0000f2 167.5px,#0003ff 171.5px,#0029ff 184.5px,#0046ff 203.5px,#0046ff 226.5px,#0036ff 238.5px,#002dff 245.5px,#0023ff 247.5px,#001dff 252.5px,#0013ff 254.5px,#0000ec 266.5px,#000096 285.5px,#00008f 298.5px,#00008f 339.5px)"></div><div style="background:linear-gradient(90deg,#00dfff 0.5px,#008fff 13.5px,#0026ff 27.5px,#0003fc 31.5px,#0000a3 40.5px,#000093 42.5px,#00008f 149.5px,#00009f 151.5px,#0000a9 153.5px,#0000e2 166.5px,#0003ff 176.5px,#0026ff 194.5px,#0030ff 215.5px,#001aff 235.5px,#0003f9 249.5px,#0000ec 254.5px,#0000e2 256.5px,#0000dc 259.5px,#0000cc 262.5px,#0000bc 267.5px,#00009c 273.5px,#00008f 281.5px,#00008f 339.5px)"></div><div style="background:linear-gradient(90deg,#00d6ff 0.5px,#0089ff 12.5px,#0016ff 26.5px,#0000f9 29.5px,#000093 39.5px,#00008f 150.5px,#00009f 152.5px,#0000af 157.5px,#0000bf 159.5px,#0000f9 178.5px,#000dff 193.5px,#0013ff 197.5px,#0013ff 216.5px,#0000f9 235.5px,#0000c9 253.5px,#000093 268.5px,#00008f 339.5px)"></div><div style="background:linear-gradient(90deg,#00cfff 0.5px,#00bfff 2.5px,#00bfff 3.5px,#009fff 7.5px,#0020ff 23.5px,#0000f9 27.5px,#00008f 37.5px,#000093 152.5px,#00009f 154.5px,#0000d6 170.5px,#0000f5 187.5px,#0003ff 205.5px,#0000ef 226.5px,#0000df 234.5px,#0000a6 254.5px,#00008f 261.5px,#00008f 339.5px)"></div><div style="background:linear-gradient(90deg,#00c9ff 0.5px,#00afff 3.5px,#00afff 4.5px,#002dff 20.5px,#0000fc 25.5px,#00008f 35.5px,#000093 154.5px,#00009f 156.5px,#0000af 161.5px,#0000bf 166.5px,#0000d2 174.5px,#0000ec 193.5px,#0000e6 217.5px,#0000bc 238.5px,#00008f 254.5px,#00008f 339.5px)"></div><div style="background:linear-gradient(90deg,#00bfff 0.5px,#00bfff 1.5px,#00afff 2.5px,#00afff 3.5px,#009fff 4.5px,#009fff 5.5px,#0050ff 15.5px,#0040ff 16.5px,#0020ff 20.5px,#0000ff 23.5px,#0000c2 29.5px,#000093 33.5px,#00008f 155.5px,#00009f 159.5px,#0000af 164.5px,#0000cf 178.5px,#0000df 198.5px,#0000cf 220.5px,#0000a3 240.5px,#00008f 248.5px,#00008f 339.5px)"></div><div style="background:linear-gradient(90deg,#00bfff 0.5px,#00afff 1.5px,#00afff 2.5px,#0050ff 14.5px,#0040ff 15.5px,#0020ff 19.5px,#0000ff 22.5px,#0000ef 24.5px,#0000d6 26.5px,#0000bf 28.5px,#00008f 32.5px,#00008f 157.5px,#00009f 161.5px,#0000af 166.5px,#0000b9 171.5px,#0000bf 175.5px,#0000cf 188.5px,#0000cc 211.5px,#0000a9 231.5px,#00008f 242.5px,#00008f 339.5px)"></div><div style="background:linear-gradient(90deg,#00bcff 0.5px,#00afff 1.5px,#00afff 2.5px,#009fff 3.5px,#009fff 4.5px,#008fff 5.5px,#008fff 6.5px,#0080ff 7.5px,#0080ff 8.5px,#0070ff 9.5px,#0050ff 13.5px,#0040ff 15.5px,#0030ff 16.5px,#0030ff 17.5px,#0016ff 19.5px,#0000ff 21.5px,#0000ef 23.5px,#0000d9 25.5px,#00009f 30.5px,#00008f 31.5px,#00008f 159.5px,#00009f 161.5px,#00009f 165.5px,#0000af 167.5px,#0000b6 174.5px,#0000bf 178.5px,#0000c6 189.5px,#0000c6 204.5px,#0000b9 217.5px,#0000a3 228.5px,#000096 234.5px,#00008f 238.5px,#00008f 339.5px)"></div><div style="background:linear-gradient(90deg,#00afff 0.5px,#00afff 1.5px,#0070ff 9.5px,#0060ff 10.5px,#0060ff 11.5px,#0050ff 12.5px,#0050ff 13.5px,#0040ff 14.5px,#0030ff 16.5px,#0020ff 17.5px,#0020ff 18.5px,#000aff 20.5px,#0000ff 21.5px,#0000ef 22.5px,#0000df 24.5px,#0000c9 26.5px,#00009f 29.5px,#00008f 31.5px,#000093 161.5px,#00009f 162.5px,#00009f 167.5px,#0000af 169.5px,#0000af 176.5px,#0000bf 180.5px,#0000bc 212.5px,#0000af 216.5px,#0000af 222.5px,#00009f 225.5px,#00009f 229.5px,#00008f 233.5px,#00008f 339.5px)"></div><div style="background:linear-gradient(90deg,#00afff 0.5px,#00afff 1.5px,#009fff 2.5px,#009fff 3.5px,#008fff 4.5px,#008fff 5.5px,#0080ff 6.5px,#0080ff 7.5px,#0070ff 8.5px,#0070ff 9.5px,#0060ff 10.5px,#0060ff 11.5px,#0050ff 12.5px,#0050ff 13.5px,#0030ff 15.5px,#0030ff 16.5px,#0020ff 17.5px,#0020ff 18.5px,#0000ff 20.5px,#0000ff 21.5px,#0000df 23.5px,#0000df 24.5px,#0000bf 26.5px,#0000bf 27.5px,#00008f 30.5px,#00008f 161.5px,#00009f 163.5px,#00009f 168.5px,#0000af 170.5px,#0000b2 179.5px,#0000bf 180.5px,#0000bf 209.5px,#0000af 211.5px,#0000ac 221.5px,#00009f 222.5px,#00009f 228.5px,#00008f 230.5px,#00008f 339.5px)"></div></div>
<div class="hm" style="top:428px"><div style="background:linear-gradient(90deg,#00afff 0.5px,#00afff 1.5px,#009fff 2.5px,#009fff 3.5px,#008fff 4.5px,#008fff 5.5px,#0080ff 6.5px,#0080ff 7.5px,#0070ff 8.5px,#0070ff 9.5px,#0060ff 10.5px,#0060ff 11.5px,#0050ff 12.5px,#0050ff 13.5px,#0030ff 15.5px,#0030ff 16.5px,#0020ff 17.5px,#0020ff 18.5px,#0000ff 20.5px,#0000ff 21.5px,#0000df 23.5px,#0000df 24.5px,#0000bf 26.5px,#0000bf 27.5px,#00008f 30.5px,#00008f 161.5px,#00009f 163.5px,#00009f 168.5px,#0000af 170.5px,#0000af 178.5px,#0000bf 180.5px,#0000bf 195.5px,#00008f 198.5px,#00008f 280.5px,#00009f 281.5px,#0000af 283.5px,#0000bf 284.5px,#0000bf 285.5px,#0000cf 286.5px,#0000cf 287.5px,#0000df 288.5px,#0000df 289.5px,#0000ef 290.5px,#0000ef 291.5px,#0000ff 292.5px,#0000ff 293.5px,#0010ff 294.5px,#0010ff 296.5px,#0020ff 297.5px,#0020ff 298.5px,#0030ff 299.5px,#0030ff 301.5px,#0040ff 302.5px,#0040ff 304.5px,#0050ff 305.5px,#0050ff 307.5px,#0060ff 308.5px,#0060ff 310.5px,#0070ff 311.5px,#0070ff 314.5px,#0080ff 315.5px,#0080ff 318.5px,#008fff 319.5px,#008fff 322.5px,#009fff 323.5px,#009fff 327.5px,#00afff 329.5px,#00afff 333.5px,#00bfff 335.5px,#00bfff 339.5px)"></div><div style="background:linear-gradient(90deg,#00afff 0.5px,#00a6ff 2.5px,#0070ff 9.5px,#0060ff 10.5px,#0060ff 11.5px,#0050ff 12.5px,#0050ff 13.5px,#0040ff 14.5px,#0040ff 15.5px,#0023ff 17.5px,#0020ff 18.5px,#0010ff 19.5px,#0000ff 21.5px,#0000ef 22.5px,#0000ef 23.5px,#0000cf 25.5px,#0000bf 27.5px,#0000a3 29.5px,#00009f 30.5px,#00008f 31.5px,#00008f 160.5px,#00009f 162.5px,#0000a3 167.5px,#0000af 169.5px,#0000b2 176.5px,#0000bf 179.5px,#0000bf 195.5px,#000093 198.5px,#00008f 280.5px,#00009f 282.5px,#0000af 283.5px,#0000bf 285.5px,#0000ff 293.5px,#0010ff 295.5px,#0010ff 296.5px,#0020ff 297.5px,#0026ff 299.5px,#0030ff 301.5px,#0040ff 303.5px,#0040ff 304.5px,#0050ff 305.5px,#0050ff 307.5px,#0060ff 308.5px,#0060ff 310.5px,#0070ff 312.5px,#0070ff 314.5px,#0080ff 315.5px,#0080ff 318.5px,#008fff 319.5px,#0093ff 323.5px,#009fff 324.5px,#009fff 328.5px,#00afff 329.5px,#00afff 334.5px,#00bfff 335.5px,#00bfff 339.5px)"></div><div style="background:linear-gradient(90deg,#00bfff 0.5px,#00afff 1.5px,#00afff 2.5px,#009fff 3.5px,#009fff 4.5px,#008fff 5.5px,#008fff 6.5px,#0080ff 7.5px,#0080ff 8.5px,#0070ff 9.5px,#0070ff 10.5px,#0060ff 11.5px,#0050ff 13.5px,#0040ff 15.5px,#0030ff 16.5px,#0030ff 17.5px,#001aff 19.5px,#0000ff 21.5px,#0000ef 23.5px,#00009f 30.5px,#00008f 32.5px,#00008f 159.5px,#00009f 161.5px,#0000a3 165.5px,#0000af 168.5px,#0000b9 174.5px,#0000bf 178.5px,#0000c9 189.5px,#0000cc 194.5px,#00008f 199.5px,#00008f 281.5px,#0000cc 287.5px,#0000ff 294.5px,#0020ff 298.5px,#0029ff 300.5px,#0030ff 302.5px,#0040ff 304.5px,#0040ff 305.5px,#0050ff 306.5px,#0050ff 308.5px,#0060ff 309.5px,#0060ff 311.5px,#0070ff 313.5px,#0070ff 315.5px,#0080ff 316.5px,#0080ff 319.5px,#008fff 321.5px,#0096ff 324.5px,#009fff 326.5px,#00a3ff 329.5px,#00afff 330.5px,#00afff 335.5px,#00bfff 337.5px,#00bfff 339.5px)"></div><div style="background:linear-gradient(90deg,#00bfff 0.5px,#009fff 4.5px,#0040ff 16.5px,#0030ff 17.5px,#0020ff 19.5px,#0010ff 21.5px,#0000ff 22.5px,#0000ac 30.5px,#000093 32.5px,#00008f 157.5px,#00009f 159.5px,#0000a6 163.5px,#0000af 167.5px,#0000bf 174.5px,#0000cf 185.5px,#0000cf 195.5px,#00008f 200.5px,#00008f 282.5px,#0000e9 292.5px,#0000ff 295.5px,#0010ff 297.5px,#0010ff 298.5px,#0020ff 300.5px,#0030ff 302.5px,#0039ff 304.5px,#0059ff 310.5px,#0070ff 315.5px,#0079ff 317.5px,#0080ff 320.5px,#008fff 322.5px,#0093ff 325.5px,#009fff 327.5px,#009fff 330.5px,#00afff 332.5px,#00afff 336.5px,#00bfff 338.5px,#00bfff 339.5px)"></div><div style="background:linear-gradient(90deg,#00bfff 0.5px,#00bfff 1.5px,#00afff 2.5px,#00afff 3.5px,#008fff 7.5px,#002dff 19.5px,#0003ff 23.5px,#0000c6 29.5px,#00008f 34.5px,#00008f 155.5px,#00009f 157.5px,#0000a9 161.5px,#0000cf 176.5px,#0000df 193.5px,#0000dc 195.5px,#00008f 201.5px,#000093 284.5px,#0000f2 295.5px,#0000ff 297.5px,#0040ff 307.5px,#0066ff 315.5px,#0070ff 317.5px,#008fff 325.5px,#009fff 330.5px,#00afff 335.5px,#00b2ff 339.5px)"></div><div style="background:linear-gradient(90deg,#00ccff 0.5px,#00bfff 1.5px,#00bfff 2.5px,#009fff 6.5px,#0013ff 23.5px,#0000ff 25.5px,#0000a9 33.5px,#000093 35.5px,#00008f 153.5px,#00009f 155.5px,#0000a6 158.5px,#0000bf 165.5px,#0000df 179.5px,#0000ef 194.5px,#0000c6 198.5px,#00008f 203.5px,#000093 286.5px,#0000f9 298.5px,#0013ff 302.5px,#005cff 315.5px,#008fff 328.5px,#009fff 333.5px,#00afff 338.5px,#00afff 339.5px)"></div><div style="background:linear-gradient(90deg,#00cfff 0.5px,#00bfff 2.5px,#00b6ff 4.5px,#0070ff 14.5px,#0000fc 27.5px,#000093 37.5px,#00008f 151.5px,#00009f 153.5px,#00009f 155.5px,#0000af 157.5px,#0000e6 175.5px,#0003ff 194.5px,#0000f2 196.5px,#000093 204.5px,#00008f 288.5px,#0000f9 301.5px,#001aff 306.5px,#0066ff 320.5px,#009fff 336.5px,#00a6ff 339.5px)"></div><div style="background:linear-gradient(90deg,#00d9ff 0.5px,#0076ff 15.5px,#0003fc 29.5px,#00008f 40.5px,#00008f 150.5px,#00009f 152.5px,#0000a9 154.5px,#0000e6 170.5px,#0003ff 181.5px,#0016ff 194.5px,#0000f9 197.5px,#0000b9 203.5px,#000096 206.5px,#00008f 210.5px,#000093 292.5px,#0000f5 304.5px,#001aff 310.5px,#0039ff 315.5px,#0076ff 328.5px,#009cff 339.5px)"></div><div style="background:linear-gradient(90deg,#00dfff 0.5px,#00d9ff 2.5px,#0063ff 20.5px,#0006ff 31.5px,#0000df 35.5px,#000096 42.5px,#00008f 46.5px,#00008f 149.5px,#00009f 151.5px,#00009f 152.5px,#0000af 154.5px,#0000c9 159.5px,#0000ff 173.5px,#0026ff 191.5px,#0026ff 195.5px,#0003fc 199.5px,#000093 209.5px,#000093 296.5px,#0000f9 309.5px,#0046ff 322.5px,#0089ff 338.5px,#0089ff 339.5px)"></div><div style="background:linear-gradient(90deg,#00efff 0.5px,#0086ff 18.5px,#0006ff 34.5px,#0000c2 41.5px,#0000ac 43.5px,#000096 45.5px,#00008f 54.5px,#00008f 149.5px,#00009f 150.5px,#00009f 151.5px,#0000af 152.5px,#0000b2 154.5px,#0000bf 155.5px,#0000c6 157.5px,#0000ff 169.5px,#002dff 184.5px,#0040ff 194.5px,#0036ff 196.5px,#0006ff 201.5px,#0000df 205.5px,#00009c 211.5px,#00008f 213.5px,#000093 301.5px,#0000b6 306.5px,#0003f9 315.5px,#0013ff 319.5px,#0033ff 324.5px,#0073ff 339.5px)"></div><div style="background:linear-gradient(90deg,#00f9ff 0.5px,#0099ff 18.5px,#0066ff 26.5px,#0056ff 28.5px,#0006fc 38.5px,#0000ef 40.5px,#0000cc 44.5px,#00009c 48.5px,#00008f 52.5px,#00008f 149.5px,#00009f 150.5px,#00009f 151.5px,#0000af 152.5px,#0000af 153.5px,#0000bf 154.5px,#0000bf 156.5px,#0000cf 157.5px,#0000d9 159.5px,#0000f9 165.5px,#0006ff 168.5px,#0049ff 187.5px,#0056ff 195.5px,#0003fc 205.5px,#0000dc 209.5px,#0000c2 211.5px,#000093 216.5px,#000093 307.5px,#0000a9 311.5px,#0003f5 322.5px,#001dff 328.5px,#0053ff 339.5px)"></div><div style="background:linear-gradient(90deg,#03fffc 0.5px,#00e2ff 8.5px,#0093ff 23.5px,#0040ff 35.5px,#0006fc 42.5px,#0000df 46.5px,#000099 53.5px,#00008f 57.5px,#00008f 149.5px,#00009f 151.5px,#0000af 152.5px,#0000af 153.5px,#0000bf 155.5px,#0000cf 157.5px,#0000cf 158.5px,#0000df 159.5px,#0000e9 161.5px,#0000ef 163.5px,#0000ff 165.5px,#0000ff 166.5px,#0010ff 168.5px,#001aff 170.5px,#005cff 187.5px,#0070ff 194.5px,#0049ff 200.5px,#0006fc 209.5px,#0000dc 213.5px,#000099 220.5px,#00008f 224.5px,#000093 315.5px,#0000a3 319.5px,#0000af 320.5px,#0000af 321.5px,#0000bf 322.5px,#0000bf 323.5px,#0000e9 328.5px,#0010fc 334.5px,#0026ff 339.5px)"></div><div style="background:linear-gradient(90deg,#10ffef 0.5px,#00fcff 6.5px,#00afff 22.5px,#005cff 36.5px,#0006fc 47.5px,#0000df 51.5px,#000099 58.5px,#00008f 62.5px,#00008f 150.5px,#0000ef 162.5px,#0000ef 163.5px,#0000ff 164.5px,#0000ff 165.5px,#0010ff 166.5px,#0010ff 168.5px,#0020ff 169.5px,#0020ff 171.5px,#0030ff 172.5px,#0033ff 174.5px,#0063ff 184.5px,#0086ff 194.5px,#003dff 206.5px,#0006fc 213.5px,#0000e2 217.5px,#000099 225.5px,#00008f 231.5px,#000093 325.5px,#0000b6 332.5px,#0000bf 334.5px,#0000cf 335.5px,#0000cf 336.5px,#0000df 338.5px,#0000df 339.5px)"></div><div style="background:linear-gradient(90deg,#20ffdf 0.5px,#00fcff 10.5px,#00cfff 21.5px,#00a9ff 29.5px,#006cff 39.5px,#003dff 46.5px,#000dfc 52.5px,#0000e6 56.5px,#000099 64.5px,#00008f 68.5px,#000093 152.5px,#0000ff 165.5px,#0010ff 167.5px,#0010ff 168.5px,#0020ff 169.5px,#0029ff 171.5px,#0030ff 173.5px,#0040ff 174.5px,#0040ff 176.5px,#0050ff 177.5px,#0050ff 179.5px,#0060ff 180.5px,#0060ff 182.5px,#0070ff 184.5px,#0096ff 195.5px,#003dff 211.5px,#0023ff 214.5px,#001dff 216.5px,#0003f9 220.5px,#0000b9 228.5px,#000099 232.5px,#00008f 238.5px,#000093 337.5px,#000099 339.5px)"></div><div style="background:linear-gradient(90deg,#2dffd2 0.5px,#00fcff 16.5px,#00efff 20.5px,#009cff 38.5px,#0049ff 51.5px,#000afc 59.5px,#0000ec 62.5px,#000099 70.5px,#00008f 76.5px,#00008f 154.5px,#0000b9 159.5px,#0000f9 166.5px,#001aff 170.5px,#0040ff 175.5px,#0040ff 176.5px,#0050ff 177.5px,#0056ff 179.5px,#0060ff 181.5px,#0070ff 182.5px,#0070ff 184.5px,#0080ff 185.5px,#0080ff 187.5px,#008fff 189.5px,#0096ff 191.5px,#009fff 193.5px,#009cff 197.5px,#003dff 217.5px,#002dff 219.5px,#0023ff 221.5px,#0006f5 227.5px,#0000d9 232.5px,#0000af 237.5px,#0000af 238.5px,#0000a3 239.5px,#00008f 245.5px,#00008f 339.5px)"></div><div style="background:linear-gradient(90deg,#39ffc6 0.5px,#10ffef 18.5px,#00f5ff 26.5px,#00dcff 33.5px,#00ccff 36.5px,#00c2ff 38.5px,#0083ff 50.5px,#0036ff 61.5px,#0010fc 66.5px,#0003ec 69.5px,#0000df 70.5px,#0000df 71.5px,#0000c2 73.5px,#0000bf 74.5px,#0000a6 76.5px,#00008f 81.5px,#000093 158.5px,#00009f 160.5px,#0000f2 168.5px,#0010ff 171.5px,#005cff 181.5px,#0080ff 186.5px,#0080ff 187.5px,#008fff 189.5px,#008fff 190.5px,#009fff 191.5px,#009fff 193.5px,#00afff 194.5px,#00acff 196.5px,#009fff 197.5px,#0099ff 201.5px,#0049ff 221.5px,#000afc 235.5px,#0000dc 242.5px,#0000cf 243.5px,#0000cf 244.5px,#0000bf 245.5px,#0000b9 247.5px,#0000af 249.5px,#0000a3 250.5px,#00008f 258.5px,#00008f 339.5px)"></div><div style="background:linear-gradient(90deg,#43ffbc 0.5px,#33ffcc 14.5px,#06fcf9 32.5px,#00ecff 38.5px,#00e2ff 40.5px,#0096ff 56.5px,#004cff 67.5px,#0030ff 70.5px,#0030ff 71.5px,#0020ff 72.5px,#0020ff 73.5px,#000df5 75.5px,#0003e9 78.5px,#00009c 86.5px,#00008f 91.5px,#000093 162.5px,#0000a6 165.5px,#0000f2 172.5px,#001dff 176.5px,#008cff 190.5px,#00a9ff 195.5px,#009fff 199.5px,#009cff 202.5px,#008fff 203.5px,#008fff 208.5px,#0080ff 210.5px,#0076ff 216.5px,#003dff 234.5px,#0033ff 236.5px,#000afc 247.5px,#0003f5 250.5px,#0003ec 252.5px,#0000d2 257.5px,#0000a9 266.5px,#000093 274.5px,#00008f 339.5px)"></div><div style="background:linear-gradient(90deg,#50ffaf 0.5px,#43ffbc 17.5px,#23ffdc 33.5px,#0dfff2 40.5px,#00ecff 49.5px,#008fff 67.5px,#0080ff 69.5px,#0080ff 70.5px,#0070ff 71.5px,#0066ff 73.5px,#0060ff 75.5px,#0050ff 76.5px,#0013f9 84.5px,#0000d9 89.5px,#00009f 95.5px,#00008f 100.5px,#000093 168.5px,#0000bf 173.5px,#0000e9 176.5px,#0016ff 180.5px,#0083ff 192.5px,#0093ff 196.5px,#0080ff 214.5px,#0076ff 218.5px,#0070ff 222.5px,#004cff 242.5px,#0013fc 263.5px,#0013f5 266.5px,#000af5 268.5px,#0003df 276.5px,#0000ac 291.5px,#0000a3 295.5px,#00008f 309.5px,#00008f 339.5px)"></div><div style="background:linear-gradient(90deg,#60ff9f 0.5px,#56ffa9 23.5px,#39ffc6 38.5px,#13ffec 51.5px,#03effc 60.5px,#00b6ff 72.5px,#00afff 74.5px,#009fff 75.5px,#009fff 77.5px,#008fff 78.5px,#008fff 79.5px,#0080ff 80.5px,#0079ff 82.5px,#001afc 94.5px,#0003df 99.5px,#0000a9 105.5px,#00008f 110.5px,#000093 174.5px,#0000ac 178.5px,#0000df 182.5px,#0013fc 186.5px,#0066ff 194.5px,#0069ff 226.5px,#0066ff 233.5px,#0060ff 237.5px,#0059ff 258.5px,#0049ff 273.5px,#0040ff 277.5px,#0030ff 288.5px,#001df9 300.5px,#0006c9 322.5px,#0000af 334.5px,#0000a6 339.5px)"></div><div style="background:linear-gradient(90deg,#6cff93 0.5px,#70ff8f 23.5px,#69ff96 27.5px,#5cffa3 41.5px,#53ffac 43.5px,#36ffc9 56.5px,#0afcf5 70.5px,#03f5fc 73.5px,#03ecfc 75.5px,#00dfff 79.5px,#00cfff 80.5px,#00cfff 82.5px,#00bfff 83.5px,#00bfff 85.5px,#00afff 86.5px,#00a9ff 88.5px,#0049ff 101.5px,#0026fc 105.5px,#000dec 109.5px,#0000b6 115.5px,#0000ac 117.5px,#000096 121.5px,#00008f 130.5px,#000093 182.5px,#0000ac 186.5px,#000aef 192.5px,#001dfc 195.5px,#0020ff 202.5px,#0030ff 208.5px,#0030ff 213.5px,#003dff 217.5px,#0040ff 222.5px,#0049ff 228.5px,#005cff 243.5px,#0070ff 256.5px,#0070ff 260.5px,#0079ff 266.5px,#0086ff 288.5px,#0086ff 306.5px,#0079ff 325.5px,#0070ff 329.5px,#0066ff 337.5px,#005cff 339.5px)"></div><div style="background:linear-gradient(90deg,#76ff89 0.5px,#86ff79 18.5px,#80ff80 40.5px,#7cff83 46.5px,#73ff8c 48.5px,#60ff9f 60.5px,#29ffd6 78.5px,#13fcec 84.5px,#0af5f5 88.5px,#03e9fc 92.5px,#0099ff 105.5px,#0030fc 118.5px,#0013ec 122.5px,#0000b9 129.5px,#000096 135.5px,#00008f 144.5px,#000093 191.5px,#0000a3 196.5px,#0000b9 208.5px,#0000cc 216.5px,#0003d6 218.5px,#0010f2 230.5px,#0013f9 234.5px,#0020fc 236.5px,#0020ff 239.5px,#0030ff 242.5px,#0030ff 244.5px,#003dff 246.5px,#0040ff 248.5px,#0049ff 250.5px,#0063ff 258.5px,#0080ff 269.5px,#0089ff 271.5px,#0099ff 277.5px,#00acff 286.5px,#00b9ff 291.5px,#00dcff 310.5px,#00e2ff 317.5px,#03e9fc 321.5px,#0aecf5 339.5px)"></div><div style="background:linear-gradient(90deg,#80ff80 0.5px,#99ff66 16.5px,#a3ff5c 42.5px,#96ff69 55.5px,#7cff83 70.5px,#56ffa9 85.5px,#4cffb2 89.5px,#40ffbf 90.5px,#40ffbf 93.5px,#30ffcf 94.5px,#2dffd2 97.5px,#20ffdf 99.5px,#03e6fc 110.5px,#00bcff 117.5px,#0070ff 127.5px,#0060ff 129.5px,#0050ff 130.5px,#0026f2 136.5px,#000ad2 141.5px,#0000a9 147.5px,#00008f 153.5px,#000093 227.5px,#0000ac 239.5px,#0000c2 243.5px,#000dec 253.5px,#001dfc 259.5px,#0040ff 266.5px,#0050ff 268.5px,#0059ff 270.5px,#0060ff 272.5px,#006cff 273.5px,#0070ff 275.5px,#007cff 277.5px,#007cff 278.5px,#0089ff 279.5px,#00bcff 292.5px,#00dcff 298.5px,#00dfff 301.5px,#00efff 303.5px,#00f5ff 306.5px,#03fffc 310.5px,#33ffcc 325.5px,#4cffb2 336.5px,#50ffaf 339.5px)"></div><div style="background:linear-gradient(90deg,#8fff70 0.5px,#b6ff49 24.5px,#c2ff3d 46.5px,#bcff43 64.5px,#99ff66 86.5px,#86ff79 93.5px,#80ff80 97.5px,#80ff80 98.5px,#70ff8f 99.5px,#69ff96 103.5px,#60ff9f 105.5px,#30ffcf 117.5px,#10efef 126.5px,#00bfff 136.5px,#0060ff 147.5px,#0036f5 152.5px,#001de2 156.5px,#0003bc 162.5px,#000096 170.5px,#00008f 179.5px,#000093 255.5px,#0000a9 263.5px,#0006d2 271.5px,#0026f5 279.5px,#003dff 283.5px,#0066ff 288.5px,#0066ff 289.5px,#0089ff 293.5px,#009fff 297.5px,#00afff 299.5px,#00bfff 301.5px,#00c9ff 303.5px,#00dcff 307.5px,#00ecff 309.5px,#0dfff2 315.5px,#50ffaf 329.5px,#50ffaf 330.5px,#5cffa3 331.5px,#60ff9f 334.5px,#70ff8f 336.5px,#76ff89 339.5px)"></div><div style="background:linear-gradient(90deg,#96ff69 0.5px,#c6ff39 20.5px,#d9ff26 35.5px,#e9ff16 61.5px,#d6ff29 88.5px,#bfff40 100.5px,#bcff43 103.5px,#afff50 104.5px,#afff50 109.5px,#9fff60 111.5px,#99ff66 115.5px,#59ffa6 132.5px,#1df9e2 145.5px,#13ecec 149.5px,#06d9f9 153.5px,#00a3ff 161.5px,#0056fc 169.5px,#0046f5 171.5px,#001ad6 178.5px,#0003b2 184.5px,#0000a3 188.5px,#00008f 194.5px,#000093 279.5px,#0000ac 286.5px,#0010d2 294.5px,#003df5 302.5px,#0049f9 303.5px,#0049fc 304.5px,#00a9ff 314.5px,#03e2fc 322.5px,#0af2f5 325.5px,#20fcdf 329.5px,#2dffd2 332.5px,#53ffac 338.5px,#56ffa9 339.5px)"></div><div style="background:linear-gradient(90deg,#9fff60 0.5px,#afff50 5.5px,#dcff23 23.5px,#fcfc03 43.5px,#ffec00 75.5px,#f5fc0a 108.5px,#ecfc13 112.5px,#ecff13 117.5px,#dfff20 118.5px,#dfff20 123.5px,#cfff30 127.5px,#9cff63 144.5px,#59ffa6 159.5px,#50ffaf 161.5px,#40ffbf 163.5px,#3dfcc2 165.5px,#33f9cc 167.5px,#16e9e9 174.5px,#06c2f9 181.5px,#009cff 186.5px,#008cff 188.5px,#0069ff 191.5px,#0049f2 197.5px,#0040e2 208.5px,#0026d9 219.5px,#0016c6 228.5px,#0000a9 244.5px,#00008f 257.5px,#000093 303.5px,#0000a3 308.5px,#0006b2 312.5px,#0023d9 320.5px,#0040e6 324.5px,#0073ff 330.5px,#0083ff 331.5px,#0086ff 332.5px,#03b2fc 336.5px,#06c6f9 339.5px)"></div><div style="background:linear-gradient(90deg,#a9ff56 0.5px,#bfff40 7.5px,#cfff30 12.5px,#fffc00 32.5px,#ffd900 52.5px,#ffc200 77.5px,#ffc200 101.5px,#ffd600 124.5px,#ffdf00 128.5px,#fcdf03 134.5px,#fcec03 137.5px,#f5f20a 144.5px,#dcfc23 158.5px,#bfff40 167.5px,#99ff66 177.5px,#8fff70 179.5px,#80ff80 181.5px,#7cff83 183.5px,#70ff8f 184.5px,#66ff99 187.5px,#3df9c2 195.5px,#3df9c2 205.5px,#2decd2 223.5px,#20dfdf 231.5px,#13c6ec 242.5px,#0aacf5 249.5px,#007cf5 259.5px,#0029cc 276.5px,#000db6 285.5px,#00009f 294.5px,#00008f 301.5px,#000093 330.5px,#0006b2 339.5px)"></div><div style="background:linear-gradient(90deg,#afff50 0.5px,#cfff30 9.5px,#efff10 19.5px,#fffc00 26.5px,#ffd200 43.5px,#ffb600 59.5px,#ff9c00 82.5px,#ff9300 92.5px,#ff9300 122.5px,#ffa600 145.5px,#ffaf00 147.5px,#ffb600 156.5px,#ffbf00 160.5px,#f9e606 180.5px,#e9f216 190.5px,#dff920 196.5px,#dff220 219.5px,#d2f92d 236.5px,#b9fc46 248.5px,#a6ff59 257.5px,#86ff79 266.5px,#7cff83 268.5px,#66f999 275.5px,#53f5ac 279.5px,#26cfd9 292.5px,#0d99ec 302.5px,#0056d9 314.5px,#0040d2 317.5px,#001dbc 325.5px,#00009f 337.5px,#000099 339.5px)"></div><div style="background:linear-gradient(90deg,#afff50 0.5px,#bfff40 2.5px,#bfff40 4.5px,#cfff30 6.5px,#cfff30 8.5px,#dfff20 10.5px,#e6ff1a 13.5px,#f5ff0a 18.5px,#fffc00 22.5px,#ffbf00 43.5px,#ff8600 73.5px,#ff6c00 97.5px,#ff6300 111.5px,#ff6300 147.5px,#ff7000 165.5px,#ff7300 169.5px,#ff8000 171.5px,#ff8600 181.5px,#ff9f00 196.5px,#ff9600 204.5px,#ff8c00 214.5px,#ff8900 239.5px,#ff9900 255.5px,#ff9f00 259.5px,#ffa900 266.5px,#fcb903 275.5px,#f5d20a 287.5px,#d2ef2d 304.5px,#b9f946 312.5px,#7cfc83 324.5px,#63ef9c 330.5px,#56eca9 331.5px,#39cfc6 339.5px)"></div><div style="background:linear-gradient(90deg,#bcff43 0.5px,#bfff40 3.5px,#cfff30 4.5px,#d2ff2d 7.5px,#dfff20 8.5px,#e2ff1d 11.5px,#efff10 13.5px,#efff10 15.5px,#ffff00 17.5px,#fff900 20.5px,#ffe900 25.5px,#ffcf00 33.5px,#ffbf00 38.5px,#ff7300 71.5px,#ff4600 102.5px,#ff4600 106.5px,#ff4000 110.5px,#ff3300 133.5px,#ff2d00 150.5px,#ff3d00 183.5px,#ff4000 201.5px,#ff3000 206.5px,#ff3000 213.5px,#ff2000 219.5px,#fc1a00 259.5px,#fc2000 268.5px,#ff3900 292.5px,#ff4300 294.5px,#ff4900 299.5px,#ff6c00 314.5px,#ff7c00 320.5px,#ff8f00 327.5px,#ff9900 329.5px,#f9b206 339.5px)"></div><div style="background:linear-gradient(90deg,#bfff40 0.5px,#bfff40 2.5px,#cfff30 3.5px,#cfff30 6.5px,#dfff20 7.5px,#e2ff1d 10.5px,#efff10 11.5px,#f2ff0d 14.5px,#ffff00 15.5px,#ffff00 18.5px,#ffef00 20.5px,#ffe900 23.5px,#ffdf00 25.5px,#ffdf00 27.5px,#ffcf00 29.5px,#ffc600 33.5px,#ffb600 38.5px,#ffa900 43.5px,#ff8f00 52.5px,#ff5000 81.5px,#ff2300 114.5px,#ff0a00 146.5px,#fc0a00 190.5px,#fc0a00 197.5px,#e20000 217.5px,#d20000 230.5px,#c60000 246.5px,#bf0000 282.5px,#cf0000 292.5px,#d90000 308.5px,#df0300 312.5px,#f51300 336.5px,#f51600 339.5px)"></div><div style="background:linear-gradient(90deg,#bfff40 0.5px,#bfff40 2.5px,#cfff30 3.5px,#cfff30 5.5px,#dfff20 6.5px,#dfff20 9.5px,#efff10 10.5px,#efff10 13.5px,#ffff00 14.5px,#ffff00 17.5px,#ffef00 18.5px,#ffef00 21.5px,#ffdf00 23.5px,#ffdf00 26.5px,#ffcf00 27.5px,#ffc900 31.5px,#ffbf00 33.5px,#ffb900 36.5px,#ffaf00 38.5px,#ffac00 41.5px,#ff9f00 42.5px,#ff9f00 46.5px,#ff8f00 48.5px,#ff8f00 52.5px,#ff8000 54.5px,#ff8000 58.5px,#ff7000 60.5px,#ff7000 64.5px,#ff6000 68.5px,#ff5900 72.5px,#ff5000 76.5px,#ff4900 80.5px,#ff4000 84.5px,#ff3d00 88.5px,#ff3000 92.5px,#ff2900 98.5px,#ff2000 106.5px,#ff1000 117.5px,#ff0000 134.5px,#ef0000 154.5px,#e60000 193.5px,#dc0000 199.5px,#b60000 220.5px,#960000 248.5px,#8c0000 275.5px,#8f0000 301.5px,#ac0000 333.5px,#b20000 339.5px)"></div><div style="background:linear-gradient(90deg,#bfff40 0.5px,#bfff40 1.5px,#cfff30 2.5px,#cfff30 5.5px,#dfff20 6.5px,#dfff20 9.5px,#efff10 10.5px,#efff10 13.5px,#ffff00 14.5px,#ffff00 17.5px,#ffef00 18.5px,#ffef00 21.5px,#ffdf00 22.5px,#ffdf00 26.5px,#ffcf00 27.5px,#ffcf00 30.5px,#ffbf00 31.5px,#ffbf00 35.5px,#ffaf00 36.5px,#ffaf00 40.5px,#ff9f00 41.5px,#ff9f00 46.5px,#ff8f00 47.5px,#ff8f00 51.5px,#ff8000 52.5px,#ff8000 57.5px,#ff7000 58.5px,#ff7000 64.5px,#ff6000 65.5px,#ff6000 71.5px,#ff5000 72.5px,#ff5000 78.5px,#ff4000 79.5px,#ff4000 86.5px,#ff3000 88.5px,#ff3000 95.5px,#ff2000 97.5px,#ff2000 106.5px,#ff1000 107.5px,#ff1000 118.5px,#ff0000 120.5px,#fc0000 133.5px,#ef0000 135.5px,#ef0000 153.5px,#df0000 158.5px,#df0000 196.5px,#cf0000 198.5px,#cf0000 203.5px,#bf0000 205.5px,#bf0000 211.5px,#af0000 213.5px,#af0000 220.5px,#9f0000 223.5px,#9f0000 231.5px,#8f0000 236.5px,#8c0000 247.5px,#800000 252.5px,#830000 318.5px,#8f0000 326.5px,#960000 337.5px,#990000 339.5px)"></div><div style="background:linear-gradient(90deg,#bfff40 0.5px,#bfff40 2.5px,#cfff30 3.5px,#cfff30 5.5px,#dfff20 6.5px,#dfff20 9.5px,#efff10 10.5px,#efff10 13.5px,#ffff00 14.5px,#ffff00 17.5px,#ffef00 19.5px,#ffe900 22.5px,#ffdf00 24.5px,#ffdf00 26.5px,#ffcf00 27.5px,#ffcc00 31.5px,#ffbf00 32.5px,#ffb900 36.5px,#ffaf00 38.5px,#ffac00 41.5px,#ff9f00 43.5px,#ff9f00 46.5px,#ff8f00 48.5px,#ff8f00 52.5px,#ff8000 54.5px,#ff8000 58.5px,#ff7000 61.5px,#ff6c00 65.5px,#ff6000 68.5px,#ff5c00 72.5px,#ff5000 76.5px,#ff4900 80.5px,#ff4000 86.5px,#ff3000 94.5px,#ff2900 98.5px,#ff1000 119.5px,#ff0000 135.5px,#f20000 154.5px,#e90000 181.5px,#e20000 198.5px,#b60000 221.5px,#9c0000 246.5px,#8c0000 278.5px,#960000 307.5px,#9c0000 311.5px,#a90000 328.5px,#b20000 332.5px,#b60000 339.5px)"></div><div style="background:linear-gradient(90deg,#bfff40 0.5px,#bfff40 2.5px,#cfff30 3.5px,#cfff30 6.5px,#dfff20 7.5px,#e2ff1d 10.5px,#efff10 11.5px,#efff10 14.5px,#ffff00 15.5px,#ffff00 18.5px,#ffef00 20.5px,#ffe900 23.5px,#ffdf00 25.5px,#ffdf00 27.5px,#ffcf00 29.5px,#ffcf00 32.5px,#ffbf00 34.5px,#ffb900 38.5px,#ffa600 44.5px,#ff8300 57.5px,#ff4300 90.5px,#ff2600 113.5px,#ff1600 131.5px,#ff0d00 158.5px,#fc0d00 197.5px,#f20300 209.5px,#d60000 232.5px,#c60000 264.5px,#cf0000 280.5px,#d90000 299.5px,#df0300 303.5px,#f21000 327.5px,#fc2000 339.5px)"></div><div style="background:linear-gradient(90deg,#bcff43 0.5px,#bfff40 3.5px,#cfff30 5.5px,#cfff30 7.5px,#dfff20 9.5px,#dfff20 11.5px,#efff10 13.5px,#efff10 15.5px,#ffff00 17.5px,#fffc00 20.5px,#ffef00 22.5px,#ffe900 25.5px,#ffd600 31.5px,#ff8c00 59.5px,#ff5600 91.5px,#ff3d00 120.5px,#ff3300 138.5px,#ff3d00 175.5px,#ff4600 189.5px,#ff5000 193.5px,#ff5000 197.5px,#ff4000 201.5px,#ff4000 207.5px,#ff3000 211.5px,#ff3000 221.5px,#ff2600 225.5px,#ff2600 263.5px,#ff3000 275.5px,#ff3600 279.5px,#ff4300 288.5px,#ff5900 299.5px,#ff6900 307.5px,#ff7600 312.5px,#ff9300 321.5px,#f9bc06 335.5px,#f5c90a 339.5px)"></div><div style="background:linear-gradient(90deg,#afff50 0.5px,#bfff40 2.5px,#bfff40 4.5px,#cfff30 6.5px,#d6ff29 9.5px,#efff10 16.5px,#ffff00 21.5px,#ffef00 26.5px,#ffb200 50.5px,#ff8600 75.5px,#ff6c00 102.5px,#ff6300 118.5px,#ff6c00 150.5px,#ff7600 163.5px,#ff8000 165.5px,#ff8300 174.5px,#ff8f00 178.5px,#ff9c00 188.5px,#ffa900 195.5px,#ff9c00 209.5px,#ff9600 240.5px,#ff9f00 248.5px,#ffac00 256.5px,#ffb900 266.5px,#f5d20a 281.5px,#d2ef2d 298.5px,#b9f946 306.5px,#aff950 308.5px,#7cfc83 319.5px,#4ce6b2 329.5px,#29b6d6 339.5px)"></div><div style="background:linear-gradient(90deg,#afff50 0.5px,#b2ff4c 2.5px,#bfff40 4.5px,#bfff40 6.5px,#cfff30 8.5px,#d9ff26 12.5px,#ffff00 25.5px,#ffc600 50.5px,#ffa600 73.5px,#ff9c00 89.5px,#ff9600 102.5px,#ff9c00 128.5px,#ffa900 140.5px,#ffaf00 144.5px,#ffb600 151.5px,#ffbf00 153.5px,#ffcf00 163.5px,#f5e90a 178.5px,#dff920 190.5px,#d6fc29 196.5px,#d6f929 216.5px,#bffc40 238.5px,#b6ff49 242.5px,#a3ff5c 250.5px,#89ff76 259.5px,#7cff83 261.5px,#46efb9 277.5px,#23ccdc 288.5px,#0d99ef 297.5px,#0d8fe9 299.5px,#0069e6 306.5px,#0039cf 314.5px,#0010b2 325.5px,#00009f 333.5px,#00008f 338.5px,#00008f 339.5px)"></div><div style="background:linear-gradient(90deg,#a6ff59 0.5px,#afff50 2.5px,#bfff40 7.5px,#fffc00 32.5px,#ffd600 58.5px,#ffcc00 74.5px,#ffc200 80.5px,#ffcc00 110.5px,#ffdf00 126.5px,#fce603 130.5px,#fcec03 134.5px,#f5ef0a 139.5px,#f2f50d 143.5px,#d9ff26 156.5px,#a3ff5c 171.5px,#79ff86 180.5px,#70ff8f 182.5px,#59ffa6 186.5px,#3df9c2 192.5px,#2df5d2 196.5px,#29ecd6 212.5px,#23e2dc 220.5px,#1ddfe2 224.5px,#0db9f2 239.5px,#0696f9 247.5px,#0070f2 256.5px,#0043dc 265.5px,#0010b9 279.5px,#00009c 290.5px,#00008f 298.5px,#000093 327.5px,#0006af 335.5px,#0010bc 339.5px)"></div><div style="background:linear-gradient(90deg,#9fff60 0.5px,#dcff23 24.5px,#f9ff06 42.5px,#fff200 69.5px,#f9f506 96.5px,#e9ff16 113.5px,#dfff20 115.5px,#dcff23 120.5px,#cfff30 123.5px,#c6ff39 128.5px,#8cff73 145.5px,#4cffb2 159.5px,#40ffbf 160.5px,#3dffc2 162.5px,#33fccc 164.5px,#1defe2 169.5px,#06ccf9 177.5px,#03acfc 181.5px,#00acff 182.5px,#007cff 187.5px,#006cff 188.5px,#003de9 195.5px,#0029dc 208.5px,#000ab9 229.5px,#000099 245.5px,#00008f 255.5px,#000093 301.5px,#0006b6 310.5px,#001dd2 316.5px,#002ddf 319.5px,#005cf5 325.5px,#0089ff 330.5px,#00acff 333.5px,#0ad2f5 338.5px,#0dd9f2 339.5px)"></div><div style="background:linear-gradient(90deg,#96ff69 0.5px,#c9ff36 23.5px,#e2ff1d 49.5px,#dcff23 75.5px,#d2ff2d 86.5px,#b9ff46 100.5px,#afff50 104.5px,#afff50 106.5px,#9fff60 107.5px,#9cff63 112.5px,#8cff73 116.5px,#60ff9f 128.5px,#20f9df 142.5px,#10ecef 147.5px,#00b9ff 156.5px,#006cff 164.5px,#005cff 166.5px,#0039f5 170.5px,#0030e9 172.5px,#000ac6 179.5px,#00009c 187.5px,#00008f 193.5px,#000093 277.5px,#0003bc 287.5px,#0023e6 296.5px,#003df9 300.5px,#0086ff 308.5px,#00acff 313.5px,#03dffc 319.5px,#0df2f2 324.5px,#30ffcf 331.5px,#40ffbf 333.5px,#40ffbf 334.5px,#50ffaf 336.5px,#5cffa3 339.5px)"></div><div style="background:linear-gradient(90deg,#8fff70 0.5px,#b6ff49 26.5px,#bfff40 48.5px,#b2ff4c 67.5px,#96ff69 84.5px,#80ff80 94.5px,#76ff89 96.5px,#70ff8f 100.5px,#60ff9f 102.5px,#59ffa6 105.5px,#1dfce2 119.5px,#03dcfc 129.5px,#009fff 138.5px,#0046fc 148.5px,#0029ef 152.5px,#0010d6 156.5px,#0000a6 164.5px,#00008f 171.5px,#000093 252.5px,#0000ac 261.5px,#0006d2 269.5px,#0023f9 277.5px,#0056ff 284.5px,#0056ff 285.5px,#0076ff 289.5px,#008fff 293.5px,#009cff 294.5px,#00a6ff 296.5px,#00ccff 302.5px,#00ccff 303.5px,#00dcff 305.5px,#00dcff 306.5px,#00ecff 308.5px,#0afff5 314.5px,#2dffd2 321.5px,#2dffd2 322.5px,#3dffc2 324.5px,#40ffbf 326.5px,#50ffaf 329.5px,#59ffa6 331.5px,#60ff9f 334.5px,#6cff93 335.5px,#70ff8f 338.5px,#79ff86 339.5px)"></div><div style="background:linear-gradient(90deg,#80ff80 0.5px,#99ff66 18.5px,#9fff60 39.5px,#99ff66 50.5px,#93ff6c 54.5px,#73ff8c 73.5px,#50ffaf 85.5px,#49ffb6 87.5px,#40ffbf 89.5px,#40ffbf 91.5px,#30ffcf 92.5px,#2dffd2 95.5px,#20ffdf 96.5px,#1dfce2 99.5px,#13fcec 101.5px,#00d2ff 112.5px,#0060ff 127.5px,#0050ff 129.5px,#0040ff 130.5px,#0040fc 131.5px,#001def 135.5px,#0000bc 143.5px,#000096 149.5px,#00008f 158.5px,#000093 223.5px,#0000a9 234.5px,#0000ac 236.5px,#0000b6 238.5px,#000ae2 249.5px,#0010f2 252.5px,#002dff 261.5px,#003dff 263.5px,#0093ff 281.5px,#00b9ff 290.5px,#00dfff 300.5px,#00efff 305.5px,#00f9ff 307.5px,#13ffec 316.5px,#26ffd9 322.5px,#46ffb9 335.5px,#4cffb2 339.5px)"></div><div style="background:linear-gradient(90deg,#76ff89 0.5px,#86ff79 22.5px,#79ff86 43.5px,#73ff8c 47.5px,#49ffb6 66.5px,#1dffe2 80.5px,#13fcec 82.5px,#0af5f5 87.5px,#03ecfc 89.5px,#00cfff 95.5px,#0083ff 107.5px,#002dfc 117.5px,#0013ec 121.5px,#0000bc 127.5px,#000096 133.5px,#00008f 146.5px,#000093 190.5px,#0000ac 196.5px,#0000cc 212.5px,#0003d6 214.5px,#0010f2 227.5px,#0016fc 232.5px,#0029ff 238.5px,#0069ff 259.5px,#0080ff 269.5px,#008fff 272.5px,#0093ff 276.5px,#009cff 278.5px,#00c2ff 298.5px,#00d2ff 310.5px,#00dfff 315.5px,#06e2f9 339.5px)"></div><div style="background:linear-gradient(90deg,#6cff93 0.5px,#66ff99 30.5px,#59ffa6 39.5px,#30ffcf 57.5px,#0af9f5 69.5px,#00e9ff 75.5px,#00dfff 77.5px,#00cfff 79.5px,#00cfff 81.5px,#00bfff 82.5px,#00b9ff 84.5px,#00afff 86.5px,#009fff 88.5px,#004cff 99.5px,#001df9 105.5px,#000ae2 109.5px,#0000ac 115.5px,#000093 120.5px,#000093 181.5px,#0000a9 185.5px,#000aef 191.5px,#0026ff 195.5px,#0030ff 208.5px,#003dff 212.5px,#0040ff 218.5px,#0049ff 224.5px,#0060ff 245.5px,#0070ff 255.5px,#007cff 276.5px,#007cff 303.5px,#006cff 324.5px,#0060ff 328.5px,#0050ff 338.5px,#004cff 339.5px)"></div><div style="background:linear-gradient(90deg,#60ff9f 0.5px,#56ffa9 21.5px,#36ffc9 37.5px,#29ffd6 43.5px,#06f9f9 55.5px,#00e2ff 62.5px,#00acff 73.5px,#009fff 74.5px,#0099ff 76.5px,#008fff 78.5px,#0080ff 79.5px,#0076ff 81.5px,#001afc 93.5px,#0003df 98.5px,#0000a6 104.5px,#00008f 110.5px,#000093 173.5px,#0000a3 176.5px,#0006ef 183.5px,#0020ff 187.5px,#003dff 189.5px,#0070ff 195.5px,#006cff 231.5px,#0060ff 235.5px,#0056ff 255.5px,#0043ff 270.5px,#0039ff 278.5px,#002dff 283.5px,#0013f2 300.5px,#000dd9 310.5px,#0006d2 314.5px,#0000ac 331.5px,#00009f 339.5px)"></div><div style="background:linear-gradient(90deg,#50ffaf 0.5px,#40ffbf 18.5px,#1affe6 35.5px,#0dfff2 39.5px,#00efff 47.5px,#00a6ff 62.5px,#007cff 69.5px,#0070ff 70.5px,#0070ff 71.5px,#0060ff 73.5px,#0050ff 75.5px,#0050ff 76.5px,#0039ff 78.5px,#000df5 84.5px,#0000cf 89.5px,#00009f 94.5px,#00008f 99.5px,#000093 167.5px,#0000a3 169.5px,#0000a3 170.5px,#0000d9 174.5px,#000afc 178.5px,#007cff 191.5px,#0099ff 195.5px,#008cff 204.5px,#0080ff 213.5px,#0080ff 217.5px,#0070ff 219.5px,#0069ff 227.5px,#0030ff 250.5px,#0013fc 262.5px,#000af5 266.5px,#0000c9 279.5px,#0000a3 291.5px,#00008f 305.5px,#00008f 339.5px)"></div><div style="background:linear-gradient(90deg,#43ffbc 0.5px,#26ffd9 19.5px,#03f9fc 32.5px,#00e2ff 39.5px,#0096ff 55.5px,#004cff 66.5px,#0040ff 67.5px,#0040ff 68.5px,#0030ff 69.5px,#0030ff 70.5px,#0020ff 71.5px,#0020ff 72.5px,#0013fc 73.5px,#000af5 75.5px,#0000cc 80.5px,#0000a6 84.5px,#000093 88.5px,#000093 162.5px,#0000ac 165.5px,#0003f5 172.5px,#0013ff 175.5px,#0056ff 182.5px,#00a6ff 194.5px,#00a6ff 196.5px,#009fff 200.5px,#009cff 202.5px,#008fff 203.5px,#008cff 208.5px,#0080ff 211.5px,#0049ff 229.5px,#003dff 233.5px,#0033ff 235.5px,#000dfc 245.5px,#0006f5 248.5px,#0003ec 250.5px,#0003ec 251.5px,#0000df 252.5px,#0000cc 257.5px,#0000b6 261.5px,#000096 270.5px,#00008f 288.5px,#00008f 339.5px)"></div><div style="background:linear-gradient(90deg,#36ffc9 0.5px,#1dffe2 12.5px,#03fcfc 22.5px,#00d2ff 34.5px,#00bcff 39.5px,#0066ff 54.5px,#0036ff 60.5px,#0013fc 65.5px,#0000e6 69.5px,#0000cf 71.5px,#0000cf 72.5px,#0000af 74.5px,#000096 78.5px,#00008f 87.5px,#00008f 157.5px,#0000a3 160.5px,#0000bc 162.5px,#0000f5 168.5px,#001aff 172.5px,#006cff 183.5px,#0080ff 187.5px,#008fff 188.5px,#008fff 190.5px,#009fff 191.5px,#009fff 193.5px,#00afff 194.5px,#00a9ff 196.5px,#009fff 198.5px,#0066ff 214.5px,#0033ff 225.5px,#000afc 234.5px,#0000d9 241.5px,#0000cf 243.5px,#0000bf 244.5px,#0000b6 246.5px,#000099 252.5px,#00008f 260.5px,#00008f 339.5px)"></div><div style="background:linear-gradient(90deg,#29ffd6 0.5px,#03fcfc 15.5px,#00ccff 28.5px,#0093ff 39.5px,#0043ff 51.5px,#000dfc 58.5px,#0000dc 63.5px,#0000c2 65.5px,#0000bf 66.5px,#0000a3 68.5px,#000099 70.5px,#00008f 74.5px,#00008f 154.5px,#0000fc 166.5px,#0020ff 171.5px,#0040ff 175.5px,#0040ff 176.5px,#0050ff 177.5px,#0053ff 179.5px,#0060ff 180.5px,#0060ff 181.5px,#0070ff 182.5px,#0070ff 184.5px,#0080ff 186.5px,#0089ff 188.5px,#00a3ff 195.5px,#0059ff 211.5px,#0033ff 217.5px,#002dff 219.5px,#0006f9 226.5px,#0000cc 233.5px,#0000bf 234.5px,#0000bf 235.5px,#0000af 236.5px,#0000af 237.5px,#0000a3 238.5px,#00008f 244.5px,#00008f 339.5px)"></div><div style="background:linear-gradient(90deg,#1dffe2 0.5px,#00fcff 10.5px,#00c6ff 23.5px,#007cff 36.5px,#0040ff 45.5px,#000afc 52.5px,#0000df 56.5px,#000099 63.5px,#00008f 69.5px,#000093 152.5px,#0000ff 165.5px,#0010ff 167.5px,#0010ff 168.5px,#0020ff 169.5px,#0020ff 170.5px,#0030ff 172.5px,#0030ff 173.5px,#0040ff 174.5px,#0040ff 176.5px,#0050ff 177.5px,#0050ff 179.5px,#0060ff 181.5px,#0069ff 183.5px,#0096ff 195.5px,#0050ff 207.5px,#001dff 215.5px,#0006f9 219.5px,#0000d6 224.5px,#000099 231.5px,#00008f 239.5px,#000093 336.5px,#00009c 339.5px)"></div><div style="background:linear-gradient(90deg,#10ffef 0.5px,#00fcff 5.5px,#00bfff 19.5px,#004cff 38.5px,#0006f9 47.5px,#0000d9 51.5px,#000096 58.5px,#00008f 67.5px,#00008f 150.5px,#0000af 154.5px,#0000bf 155.5px,#0000bf 156.5px,#0000cf 157.5px,#0000cf 158.5px,#0000df 159.5px,#0000df 160.5px,#0000ef 162.5px,#0000ef 163.5px,#0000ff 164.5px,#0000ff 165.5px,#0010ff 167.5px,#0010ff 168.5px,#0020ff 169.5px,#0020ff 171.5px,#0030ff 172.5px,#0033ff 174.5px,#0040ff 176.5px,#007cff 192.5px,#0083ff 195.5px,#0006fc 213.5px,#0000df 217.5px,#000099 225.5px,#00008f 229.5px,#000093 324.5px,#0000af 330.5px,#0000bf 332.5px,#0000bf 333.5px,#0000cf 334.5px,#0000cf 335.5px,#0000df 336.5px,#0003ec 339.5px)"></div><div style="background:linear-gradient(90deg,#03fffc 0.5px,#00dcff 9.5px,#0086ff 25.5px,#0076ff 27.5px,#0006fc 42.5px,#0000b2 50.5px,#000096 53.5px,#00008f 62.5px,#00008f 149.5px,#00009f 150.5px,#00009f 151.5px,#0000af 152.5px,#0000af 153.5px,#0000bf 154.5px,#0000c2 156.5px,#0000cf 157.5px,#0000cf 158.5px,#0000df 159.5px,#0000e9 161.5px,#0000ef 163.5px,#0000ff 165.5px,#0000ff 166.5px,#0010ff 168.5px,#001aff 170.5px,#0056ff 186.5px,#006cff 194.5px,#0066ff 196.5px,#0056ff 198.5px,#0006fc 208.5px,#0000e2 212.5px,#000096 220.5px,#00008f 229.5px,#000093 314.5px,#0000a3 318.5px,#0000af 319.5px,#0000af 320.5px,#0000df 326.5px,#0003f5 330.5px,#0029ff 338.5px,#0029ff 339.5px)"></div><div style="background:linear-gradient(90deg,#00f5ff 0.5px,#00b6ff 13.5px,#0069ff 25.5px,#0003fc 38.5px,#0000dc 42.5px,#0000c2 44.5px,#000093 49.5px,#00008f 149.5px,#00009f 150.5px,#00009f 151.5px,#0000af 152.5px,#0000af 153.5px,#0000bf 154.5px,#0000bf 156.5px,#0000cf 157.5px,#0000d6 159.5px,#0000ef 163.5px,#0003ff 168.5px,#0033ff 180.5px,#0056ff 194.5px,#0056ff 195.5px,#0006ff 204.5px,#0000df 208.5px,#000096 215.5px,#00008f 224.5px,#000093 306.5px,#0000ac 311.5px,#0000e9 319.5px,#000afc 323.5px,#0053ff 338.5px,#0053ff 339.5px)"></div><div style="background:linear-gradient(90deg,#00efff 0.5px,#00dfff 2.5px,#00d6ff 4.5px,#0083ff 18.5px,#0006fc 34.5px,#0000dc 38.5px,#000096 45.5px,#00008f 49.5px,#00008f 149.5px,#00009f 150.5px,#00009f 151.5px,#0000af 153.5px,#0000af 154.5px,#0000bf 155.5px,#0000c2 157.5px,#0000cf 158.5px,#0000d2 160.5px,#0000ef 166.5px,#0003ff 171.5px,#0029ff 183.5px,#0040ff 194.5px,#0006ff 201.5px,#0000dc 205.5px,#000096 211.5px,#00008f 220.5px,#000093 300.5px,#0000a9 304.5px,#0000f2 313.5px,#000dff 317.5px,#0056ff 331.5px,#0076ff 339.5px)"></div><div style="background:linear-gradient(90deg,#00dfff 0.5px,#00d6ff 2.5px,#0076ff 17.5px,#0016ff 29.5px,#0003ff 31.5px,#000093 42.5px,#00008f 149.5px,#00009f 151.5px,#00009f 152.5px,#0000af 154.5px,#0000b9 156.5px,#0000cf 161.5px,#0000ff 174.5px,#001dff 187.5px,#0026ff 195.5px,#0000f9 199.5px,#000096 208.5px,#00008f 217.5px,#000093 295.5px,#0000c2 302.5px,#0003f9 309.5px,#0033ff 318.5px,#0079ff 333.5px,#008cff 339.5px)"></div><div style="background:linear-gradient(90deg,#00d9ff 0.5px,#0099ff 10.5px,#001aff 26.5px,#0000fc 29.5px,#00008f 40.5px,#00008f 150.5px,#00009f 152.5px,#0000a6 154.5px,#0000af 156.5px,#0000df 168.5px,#0003ff 182.5px,#0013ff 194.5px,#0000f9 197.5px,#000093 206.5px,#000093 291.5px,#0000af 295.5px,#0003fc 305.5px,#001aff 309.5px,#0059ff 321.5px,#008fff 335.5px,#009cff 339.5px)"></div><div style="background:linear-gradient(90deg,#00cfff 0.5px,#00bfff 2.5px,#00b6ff 4.5px,#009cff 8.5px,#0073ff 13.5px,#0023ff 23.5px,#0000f9 27.5px,#000093 37.5px,#000093 152.5px,#00009f 154.5px,#0000a6 156.5px,#0000af 158.5px,#0000e9 177.5px,#0000ff 194.5px,#0000d9 198.5px,#000099 203.5px,#00008f 207.5px,#000093 288.5px,#0000b9 293.5px,#0000f9 301.5px,#0016ff 305.5px,#0063ff 319.5px,#009fff 335.5px,#00a9ff 339.5px)"></div><div style="background:linear-gradient(90deg,#00c9ff 0.5px,#00bfff 2.5px,#00afff 3.5px,#00afff 4.5px,#008fff 8.5px,#001aff 22.5px,#0000fc 25.5px,#000093 35.5px,#00008f 153.5px,#00009f 155.5px,#0000a6 158.5px,#0000cf 172.5px,#0000e9 188.5px,#0000e9 195.5px,#000093 202.5px,#00008f 285.5px,#0000ff 299.5px,#0050ff 312.5px,#008fff 327.5px,#009fff 332.5px,#00afff 339.5px)"></div><div style="background:linear-gradient(90deg,#00bfff 0.5px,#00bfff 1.5px,#00afff 2.5px,#00afff 3.5px,#003dff 17.5px,#0003ff 23.5px,#0000a3 32.5px,#00008f 34.5px,#00008f 155.5px,#00009f 157.5px,#0000a9 161.5px,#0000b9 167.5px,#0000cf 178.5px,#0000df 194.5px,#0000b2 198.5px,#00008f 201.5px,#00008f 283.5px,#0000ff 297.5px,#0030ff 304.5px,#0060ff 313.5px,#0069ff 315.5px,#008fff 325.5px,#009fff 330.5px,#00a3ff 332.5px,#00afff 334.5px,#00b6ff 339.5px)"></div><div style="background:linear-gradient(90deg,#00bfff 0.5px,#008fff 6.5px,#0050ff 14.5px,#0040ff 15.5px,#0040ff 16.5px,#0029ff 18.5px,#0013ff 20.5px,#0010ff 21.5px,#0000ff 22.5px,#0000ef 24.5px,#0000d9 26.5px,#000093 32.5px,#00008f 157.5px,#00009f 159.5px,#0000a6 163.5px,#0000af 167.5px,#0000bf 174.5px,#0000cf 187.5px,#0000cf 195.5px,#00008f 200.5px,#00008f 282.5px,#0000d9 290.5px,#0000ff 295.5px,#0030ff 302.5px,#0030ff 303.5px,#0040ff 305.5px,#0040ff 306.5px,#0050ff 308.5px,#0050ff 309.5px,#0060ff 311.5px,#0066ff 313.5px,#0070ff 315.5px,#0079ff 317.5px,#0080ff 320.5px,#008fff 322.5px,#0093ff 325.5px,#009fff 327.5px,#00a3ff 330.5px,#00afff 332.5px,#00afff 336.5px,#00bfff 338.5px,#00bfff 339.5px)"></div><div style="background:linear-gradient(90deg,#00bfff 0.5px,#00afff 1.5px,#00afff 2.5px,#009fff 3.5px,#009fff 4.5px,#008fff 5.5px,#008fff 6.5px,#0080ff 7.5px,#0080ff 8.5px,#0070ff 9.5px,#0070ff 10.5px,#0059ff 12.5px,#0040ff 15.5px,#0030ff 16.5px,#0030ff 17.5px,#0016ff 19.5px,#0000ff 21.5px,#0000ef 23.5px,#0000df 24.5px,#0000cf 26.5px,#0000b9 28.5px,#000093 31.5px,#00008f 159.5px,#00009f 161.5px,#0000a3 165.5px,#0000af 168.5px,#0000b2 173.5px,#0000bf 177.5px,#0000c6 188.5px,#0000cc 194.5px,#00008f 199.5px,#00008f 281.5px,#0000a6 283.5px,#0000cc 287.5px,#0000ff 294.5px,#0020ff 298.5px,#0020ff 299.5px,#0030ff 301.5px,#0030ff 302.5px,#0040ff 303.5px,#0043ff 305.5px,#0050ff 306.5px,#0050ff 308.5px,#0060ff 309.5px,#0060ff 311.5px,#0070ff 313.5px,#0070ff 315.5px,#0080ff 316.5px,#0080ff 319.5px,#008fff 320.5px,#008fff 323.5px,#009fff 325.5px,#00a6ff 329.5px,#00afff 331.5px,#00b2ff 335.5px,#00bfff 336.5px,#00bfff 339.5px)"></div><div style="background:linear-gradient(90deg,#00afff 0.5px,#00a6ff 2.5px,#0070ff 9.5px,#0060ff 10.5px,#0060ff 11.5px,#0050ff 12.5px,#0050ff 13.5px,#0040ff 14.5px,#0040ff 15.5px,#0020ff 17.5px,#0020ff 18.5px,#000aff 20.5px,#0000ff 21.5px,#0000ef 22.5px,#0000ef 23.5px,#0000cf 25.5px,#0000bf 27.5px,#0000a3 29.5px,#00009f 30.5px,#00008f 31.5px,#000093 161.5px,#00009f 162.5px,#00009f 167.5px,#0000af 169.5px,#0000b6 177.5px,#0000bf 181.5px,#0000bf 195.5px,#00008f 198.5px,#00008f 280.5px,#00009f 282.5px,#0000af 283.5px,#0000bf 285.5px,#0000ff 293.5px,#0010ff 295.5px,#0010ff 296.5px,#0020ff 297.5px,#0029ff 299.5px,#0030ff 301.5px,#0040ff 302.5px,#0040ff 304.5px,#0050ff 305.5px,#0050ff 307.5px,#0060ff 308.5px,#0060ff 310.5px,#0070ff 312.5px,#0070ff 314.5px,#0080ff 315.5px,#0080ff 318.5px,#008fff 319.5px,#0096ff 323.5px,#009fff 325.5px,#009fff 328.5px,#00afff 329.5px,#00afff 334.5px,#00bfff 335.5px,#00bfff 339.5px)"></div><div style="background:linear-gradient(90deg,#00afff 0.5px,#00afff 1.5px,#009fff 2.5px,#009fff 3.5px,#008fff 4.5px,#008fff 5.5px,#0080ff 6.5px,#0080ff 7.5px,#0070ff 8.5px,#0070ff 9.5px,#0060ff 10.5px,#0060ff 11.5px,#0050ff 12.5px,#0050ff 13.5px,#0030ff 15.5px,#0030ff 16.5px,#0020ff 17.5px,#0020ff 18.5px,#0000ff 20.5px,#0000ff 21.5px,#0000df 23.5px,#0000df 24.5px,#0000bf 26.5px,#0000bf 27.5px,#00008f 30.5px,#00008f 161.5px,#00009f 163.5px,#00009f 168.5px,#0000af 170.5px,#0000af 178.5px,#0000bf 180.5px,#0000bf 195.5px,#00008f 198.5px,#00008f 280.5px,#00009f 281.5px,#0000af 283.5px,#0000bf 284.5px,#0000bf 285.5px,#0000cf 286.5px,#0000cf 287.5px,#0000df 288.5px,#0000df 289.5px,#0000ef 290.5px,#0000ef 291.5px,#0000ff 292.5px,#0000ff 293.5px,#0010ff 294.5px,#0010ff 296.5px,#0020ff 297.5px,#0020ff 298.5px,#0030ff 299.5px,#0030ff 301.5px,#0040ff 302.5px,#0040ff 304.5px,#0050ff 305.5px,#0050ff 307.5px,#0060ff 308.5px,#0060ff 310.5px,#0070ff 311.5px,#0070ff 314.5px,#0080ff 315.5px,#0080ff 318.5px,#008fff 319.5px,#008fff 322.5px,#009fff 323.5px,#009fff 327.5px,#00afff 328.5px,#00afff 333.5px,#00bfff 335.5px,#00bfff 339.5px)"></div></div>
<div style="position:absolute;left:32.6px;top:336px;width:338.0px;height:11px;background:linear-gradient(90deg,#00008f 0.000%,#00008f 1.562%,#00009f 1.562%,#00009f 3.125%,#0000af 3.125%,#0000af 4.688%,#0000bf 4.688%,#0000bf 6.250%,#0000cf 6.250%,#0000cf 7.812%,#0000df 7.812%,#0000df 9.375%,#0000ef 9.375%,#0000ef 10.938%,#0000ff 10.938%,#0000ff 12.500%,#0010ff 12.500%,#0010ff 14.062%,#0020ff 14.062%,#0020ff 15.625%,#0030ff 15.625%,#0030ff 17.188%,#0040ff 17.188%,#0040ff 18.750%,#0050ff 18.750%,#0050ff 20.312%,#0060ff 20.312%,#0060ff 21.875%,#0070ff 21.875%,#0070ff 23.438%,#0080ff 23.438%,#0080ff 25.000%,#008fff 25.000%,#008fff 26.562%,#009fff 26.562%,#009fff 28.125%,#00afff 28.125%,#00afff 29.688%,#00bfff 29.688%,#00bfff 31.250%,#00cfff 31.250%,#00cfff 32.812%,#00dfff 32.812%,#00dfff 34.375%,#00efff 34.375%,#00efff 35.938%,#00ffff 35.938%,#00ffff 37.500%,#10ffef 37.500%,#10ffef 39.062%,#20ffdf 39.062%,#20ffdf 40.625%,#30ffcf 40.625%,#30ffcf 42.188%,#40ffbf 42.188%,#40ffbf 43.750%,#50ffaf 43.750%,#50ffaf 45.312%,#60ff9f 45.312%,#60ff9f 46.875%,#70ff8f 46.875%,#70ff8f 48.438%,#80ff80 48.438%,#80ff80 50.000%,#8fff70 50.000%,#8fff70 51.562%,#9fff60 51.562%,#9fff60 53.125%,#afff50 53.125%,#afff50 54.688%,#bfff40 54.688%,#bfff40 56.250%,#cfff30 56.250%,#cfff30 57.812%,#dfff20 57.812%,#dfff20 59.375%,#efff10 59.375%,#efff10 60.938%,#ffff00 60.938%,#ffff00 62.500%,#ffef00 62.500%,#ffef00 64.062%,#ffdf00 64.062%,#ffdf00 65.625%,#ffcf00 65.625%,#ffcf00 67.188%,#ffbf00 67.188%,#ffbf00 68.750%,#ffaf00 68.750%,#ffaf00 70.312%,#ff9f00 70.312%,#ff9f00 71.875%,#ff8f00 71.875%,#ff8f00 73.438%,#ff8000 73.438%,#ff8000 75.000%,#ff7000 75.000%,#ff7000 76.562%,#ff6000 76.562%,#ff6000 78.125%,#ff5000 78.125%,#ff5000 79.688%,#ff4000 79.688%,#ff4000 81.250%,#ff3000 81.250%,#ff3000 82.812%,#ff2000 82.812%,#ff2000 84.375%,#ff1000 84.375%,#ff1000 85.938%,#ff0000 85.938%,#ff0000 87.500%,#ef0000 87.500%,#ef0000 89.062%,#df0000 89.062%,#df0000 90.625%,#cf0000 90.625%,#cf0000 92.188%,#bf0000 92.188%,#bf0000 93.750%,#af0000 93.750%,#af0000 95.312%,#9f0000 95.312%,#9f0000 96.875%,#8f0000 96.875%,#8f0000 98.438%,#800000 98.438%,#800000 100.000%)"></div>
<svg width="375" height="521" viewBox="0 0 375 521"><defs><clipPath id="ca"><rect x="33.50" y="8.50" width="337.00" height="126.00"/></clipPath><clipPath id="cb"><rect x="33.50" y="139.50" width="337.00" height="126.00"/></clipPath></defs><line x1="110.5" y1="8.5" x2="110.5" y2="134.5" stroke="#f00" stroke-width="1.3" stroke-dasharray="2.7 3.15" stroke-dashoffset="0.8"/><line x1="110.5" y1="139.5" x2="110.5" y2="265.5" stroke="#f00" stroke-width="1.3" stroke-dasharray="2.7 3.15"/><line x1="110.5" y1="354.7" x2="110.5" y2="417.9" stroke="#f00" stroke-width="1.3" stroke-dasharray="2.7 3.15"/><line x1="110.5" y1="427.9" x2="110.5" y2="491.0" stroke="#f00" stroke-width="1.3" stroke-dasharray="2.7 3.15"/><line x1="227.1" y1="8.5" x2="227.1" y2="134.5" stroke="#00f" stroke-width="1.3" stroke-dasharray="2.7 3.15" stroke-dashoffset="0.8"/><line x1="227.1" y1="139.5" x2="227.1" y2="265.5" stroke="#00f" stroke-width="1.3" stroke-dasharray="2.7 3.15"/><line x1="227.1" y1="354.7" x2="227.1" y2="417.9" stroke="#00f" stroke-width="1.3" stroke-dasharray="2.7 3.15"/><line x1="227.1" y1="427.9" x2="227.1" y2="491.0" stroke="#00f" stroke-width="1.3" stroke-dasharray="2.7 3.15"/><line x1="317.0" y1="8.5" x2="317.0" y2="134.5" stroke="#0ff" stroke-width="1.3" stroke-dasharray="2.7 3.15"/><g clip-path="url(#ca)" fill="none" stroke-width="1.60"><path stroke="#000" d="M33.5 134.8L107.6 111.5L163.8 94.9L215.5 80.7L271.6 66.6L332.3 52.5L370.5 44.2"/><path stroke="#00f" d="M33.5 133.6L53.7 124.9L85.2 109.8L118.9 93.6L139.1 84.9L154.8 79.0L170.5 74.1L186.3 70.4L199.8 68.1L213.2 66.7L229.0 66.3L244.7 67.0L260.4 68.7L278.4 71.8L300.9 76.9L336.8 86.6L370.5 96.0"/><path stroke="#f00" d="M227.1 66.3L240.2 55.7L251.4 47.5L262.7 40.3L271.6 35.4L280.6 31.4L289.6 28.3L298.6 26.0L307.6 24.7L316.6 24.3L325.6 24.8L334.6 26.1L345.8 29.0L357.0 32.9L368.3 37.8L370.5 38.9"/></g><g clip-path="url(#cb)" fill="none" stroke-width="1.60"><path stroke="#000" d="M33.5 268.0L42.5 261.3L49.2 257.2L56.0 254.0L62.7 252.0L67.2 251.5L71.7 251.7L78.4 253.6L82.9 253.8L89.7 253.1L98.7 251.2L107.6 248.4L125.6 241.1L132.4 239.1L139.1 237.8L148.1 237.2L168.3 237.7L179.5 237.2L202.0 234.3L217.7 232.6L273.9 229.6L325.6 227.1L370.5 225.4"/><path stroke="#00f" d="M33.5 267.3L47.0 253.1L57.3 241.2L65.9 230.4L72.6 220.7L78.4 211.4L83.4 202.4L87.4 194.0L90.6 186.6L93.3 179.4L95.5 172.6L97.8 164.8L99.6 157.7L100.9 151.6L102.2 144.7L103.1 139.5L104.0 133.6L104.9 127.0L105.8 119.5L115.7 119.5L116.2 122.0L117.1 128.3L118.0 133.6L119.3 140.5L120.7 146.3L122.5 152.9L124.3 158.4L126.5 164.3L129.2 170.3L132.4 176.0L135.9 181.5L140.4 187.2L145.8 192.7L152.1 197.8L159.3 202.4L167.9 206.7L177.7 210.4L189.4 213.6L202.4 215.8L216.8 217.1L232.1 217.3L247.8 216.4L263.1 214.3L277.5 211.3L290.5 207.5L302.2 203.0L312.5 197.9L321.5 192.5L329.2 186.9L335.9 180.9L341.7 174.6L346.7 168.4L350.7 162.3L354.3 156.0L357.5 149.4L360.2 142.9L362.4 136.4L364.2 130.4L366.0 123.5L366.9 119.5L370.5 119.5"/><path stroke="#f00" d="M227.1 217.4L233.5 208.8L238.8 200.4L243.3 192.4L246.9 184.9L250.1 177.4L252.8 170.0L255.0 162.8L256.8 156.1L258.2 150.5L259.5 144.0L260.9 136.5L261.8 130.8L262.7 124.2L263.1 120.5L263.6 119.5L273.4 119.5L273.9 122.3L274.8 128.6L275.7 134.0L277.0 141.0L278.4 147.0L280.2 153.8L282.0 159.6L284.2 165.9L286.9 172.2L290.1 178.5L293.7 184.5L298.2 190.9L303.5 197.2L309.8 203.4L317.0 209.2L325.6 214.9L335.5 220.3L347.1 225.5L360.6 230.2L370.5 233.0"/></g><circle cx="33.0" cy="133.0" r="1.5" fill="#f0f"/><circle cx="37.5" cy="131.4" r="1.5" fill="#f0f"/><circle cx="42.0" cy="129.5" r="1.5" fill="#f0f"/><circle cx="46.5" cy="127.5" r="1.5" fill="#f0f"/><circle cx="51.0" cy="125.5" r="1.5" fill="#f0f"/><circle cx="55.5" cy="123.5" r="1.5" fill="#f0f"/><circle cx="60.0" cy="121.4" r="1.5" fill="#f0f"/><circle cx="64.5" cy="119.2" r="1.5" fill="#f0f"/><circle cx="69.0" cy="117.1" r="1.5" fill="#f0f"/><circle cx="73.5" cy="115.0" r="1.5" fill="#f0f"/><circle cx="78.0" cy="113.0" r="1.5" fill="#f0f"/><circle cx="82.5" cy="111.2" r="1.5" fill="#f0f"/><circle cx="87.0" cy="109.3" r="1.5" fill="#f0f"/><circle cx="91.5" cy="107.5" r="1.5" fill="#f0f"/><circle cx="96.0" cy="105.8" r="1.5" fill="#f0f"/><circle cx="100.5" cy="104.1" r="1.5" fill="#f0f"/><circle cx="105.0" cy="102.5" r="1.5" fill="#f0f"/><circle cx="109.5" cy="101.0" r="1.5" fill="#f0f"/><circle cx="114.0" cy="99.5" r="1.5" fill="#f0f"/><circle cx="118.5" cy="98.0" r="1.5" fill="#f0f"/><circle cx="123.0" cy="96.7" r="1.5" fill="#f0f"/><circle cx="127.5" cy="95.4" r="1.5" fill="#f0f"/><circle cx="132.0" cy="94.3" r="1.5" fill="#f0f"/><circle cx="136.5" cy="93.2" r="1.5" fill="#f0f"/><circle cx="141.0" cy="92.1" r="1.5" fill="#f0f"/><circle cx="37.5" cy="262.8" r="1.5" fill="#f0f"/><circle cx="41.7" cy="257.9" r="1.5" fill="#f0f"/><circle cx="46.4" cy="253.0" r="1.5" fill="#f0f"/><circle cx="50.9" cy="247.9" r="1.5" fill="#f0f"/><circle cx="55.6" cy="243.2" r="1.5" fill="#f0f"/><circle cx="59.9" cy="238.3" r="1.5" fill="#f0f"/><circle cx="64.5" cy="232.7" r="1.5" fill="#f0f"/><circle cx="69.0" cy="227.0" r="1.5" fill="#f0f"/><circle cx="73.7" cy="221.0" r="1.5" fill="#f0f"/><circle cx="78.0" cy="214.2" r="1.5" fill="#f0f"/><circle cx="82.7" cy="207.2" r="1.5" fill="#f0f"/><circle cx="86.9" cy="199.3" r="1.5" fill="#f0f"/><circle cx="91.4" cy="190.2" r="1.5" fill="#f0f"/><circle cx="95.9" cy="180.6" r="1.5" fill="#f0f"/><circle cx="100.4" cy="168.4" r="1.5" fill="#f0f"/><circle cx="104.9" cy="152.7" r="1.5" fill="#f0f"/><circle cx="131.8" cy="149.5" r="1.5" fill="#f0f"/><circle cx="136.6" cy="159.1" r="1.5" fill="#f0f"/><circle cx="141.0" cy="166.2" r="1.5" fill="#f0f"/><rect x="33.50" y="8.50" width="337.00" height="126.00" fill="none" stroke="#000" stroke-width="1.30"/><rect x="33.50" y="139.50" width="337.00" height="126.00" fill="none" stroke="#000" stroke-width="1.30"/><path fill="none" stroke="#000" stroke-width="1.3" d="M33.5 265.5v-3.5M33.5 139.5v3.5M56.0 265.5v-3.5M56.0 139.5v3.5M78.4 265.5v-3.5M78.4 139.5v3.5M100.9 265.5v-3.5M100.9 139.5v3.5M123.4 265.5v-3.5M123.4 139.5v3.5M145.8 265.5v-3.5M145.8 139.5v3.5M168.3 265.5v-3.5M168.3 139.5v3.5M190.8 265.5v-3.5M190.8 139.5v3.5M213.2 265.5v-3.5M213.2 139.5v3.5M235.7 265.5v-3.5M235.7 139.5v3.5M258.2 265.5v-3.5M258.2 139.5v3.5M280.6 265.5v-3.5M280.6 139.5v3.5M303.1 265.5v-3.5M303.1 139.5v3.5M325.6 265.5v-3.5M325.6 139.5v3.5M348.0 265.5v-3.5M348.0 139.5v3.5M370.5 265.5v-3.5M370.5 139.5v3.5M100.9 134.5v-3.5M100.9 8.5v3.5M190.8 134.5v-3.5M190.8 8.5v3.5M280.6 134.5v-3.5M280.6 8.5v3.5M33.5 127.1h3.5M370.5 127.1h-3.5M33.5 97.4h3.5M370.5 97.4h-3.5M33.5 67.8h3.5M370.5 67.8h-3.5M33.5 38.1h3.5M370.5 38.1h-3.5M33.5 265.5h3.1M370.5 265.5h-3.1M33.5 259.3h3.1M370.5 259.3h-3.1M33.5 254.4h3.1M370.5 254.4h-3.1M33.5 250.5h3.1M370.5 250.5h-3.1M33.5 247.1h3.1M370.5 247.1h-3.1M33.5 244.2h3.1M370.5 244.2h-3.1M33.5 241.7h3.1M370.5 241.7h-3.1M33.5 239.4h3.5M370.5 239.4h-3.5M33.5 224.4h3.1M370.5 224.4h-3.1M33.5 215.6h3.1M370.5 215.6h-3.1M33.5 209.3h3.1M370.5 209.3h-3.1M33.5 204.5h3.1M370.5 204.5h-3.1M33.5 200.5h3.1M370.5 200.5h-3.1M33.5 197.2h3.1M370.5 197.2h-3.1M33.5 194.3h3.1M370.5 194.3h-3.1M33.5 191.7h3.1M370.5 191.7h-3.1M33.5 189.4h3.5M370.5 189.4h-3.5M33.5 174.4h3.1M370.5 174.4h-3.1M33.5 165.6h3.1M370.5 165.6h-3.1M33.5 159.4h3.1M370.5 159.4h-3.1M33.5 154.5h3.1M370.5 154.5h-3.1M33.5 150.6h3.1M370.5 150.6h-3.1M33.5 147.2h3.1M370.5 147.2h-3.1M33.5 144.3h3.1M370.5 144.3h-3.1M33.5 141.8h3.1M370.5 141.8h-3.1"/><rect x="32.50" y="354.70" width="338.70" height="63.20" fill="none" stroke="#222" stroke-width="1.00"/><rect x="32.50" y="427.90" width="338.70" height="63.10" fill="none" stroke="#222" stroke-width="1.00"/><rect x="32.60" y="336.00" width="338.00" height="11.00" fill="none" stroke="#222" stroke-width="1.00"/><path fill="none" stroke="#000" stroke-width="1" d="M52.5 336v3M92.2 336v3M132.0 336v3M171.8 336v3M211.5 336v3M251.3 336v3M291.1 336v3M330.8 336v3M370.6 336v3"/><text x="31.0" y="130.2" font-size="8.60" text-anchor="end" >2</text><text x="31.0" y="100.5" font-size="8.60" text-anchor="end" >4</text><text x="31.0" y="70.9" font-size="8.60" text-anchor="end" >6</text><text x="31.0" y="41.2" font-size="8.60" text-anchor="end" >8</text><text x="31.0" y="11.6" font-size="8.60" text-anchor="end" >10</text><text x="41.4" y="42.8" font-size="11.00" text-anchor="start" textLength="14" lengthAdjust="spacingAndGlyphs">(a)</text><text x="41.4" y="178.9" font-size="11.00" text-anchor="start" textLength="14" lengthAdjust="spacingAndGlyphs">(b)</text><text x="26.1" y="244.9" font-size="9.00" text-anchor="end" >10</text><text x="26.4" y="240.2" font-size="7.00" text-anchor="start" >1</text><text x="26.1" y="194.9" font-size="9.00" text-anchor="end" >10</text><text x="26.4" y="190.2" font-size="7.00" text-anchor="start" >2</text><text x="26.1" y="145.0" font-size="9.00" text-anchor="end" >10</text><text x="26.4" y="140.3" font-size="7.00" text-anchor="start" >3</text><text x="33.5" y="277.3" font-size="9.00" text-anchor="middle" >0.25</text><text x="56.0" y="277.3" font-size="9.00" text-anchor="middle" >0.5</text><text x="78.4" y="277.3" font-size="9.00" text-anchor="middle" >0.75</text><text x="100.9" y="277.3" font-size="9.00" text-anchor="middle" >1</text><text x="123.4" y="277.3" font-size="9.00" text-anchor="middle" >1.25</text><text x="145.8" y="277.3" font-size="9.00" text-anchor="middle" >1.5</text><text x="168.3" y="277.3" font-size="9.00" text-anchor="middle" >1.75</text><text x="190.8" y="277.3" font-size="9.00" text-anchor="middle" >2</text><text x="213.2" y="277.3" font-size="9.00" text-anchor="middle" >2.25</text><text x="235.7" y="277.3" font-size="9.00" text-anchor="middle" >2.5</text><text x="258.2" y="277.3" font-size="9.00" text-anchor="middle" >2.75</text><text x="280.6" y="277.3" font-size="9.00" text-anchor="middle" >3</text><text x="303.1" y="277.3" font-size="9.00" text-anchor="middle" >3.25</text><text x="325.6" y="277.3" font-size="9.00" text-anchor="middle" >3.5</text><text x="348.0" y="277.3" font-size="9.00" text-anchor="middle" >3.75</text><text x="370.5" y="277.3" font-size="9.00" text-anchor="middle" >4</text><text class="sf" x="119.7" y="288.6" font-size="10.60" textLength="164.3" lengthAdjust="spacingAndGlyphs">Phase modulation amplitude <tspan font-style="italic">A</tspan><tspan font-style="italic" font-size="7.42" dy="4.2">m</tspan><tspan dy="-4.2"> (rad)</tspan></text><text class="sf" x="124.4" y="514.6" font-size="10.60" textLength="155.1" lengthAdjust="spacingAndGlyphs">Phase modulation amplitude <tspan font-style="italic">A</tspan><tspan font-style="italic" font-size="7.42" dy="4.2">m</tspan><tspan dy="-4.2"> (rad)</tspan></text><text x="160.2" y="318" font-size="8.3" textLength="83.8" lengthAdjust="spacingAndGlyphs">Intensity (arb. unit, dB)</text><text x="52.5" y="330.2" font-size="8.30" text-anchor="middle" >-16</text><text x="92.2" y="330.2" font-size="8.30" text-anchor="middle" >-14</text><text x="132.0" y="330.2" font-size="8.30" text-anchor="middle" >-12</text><text x="171.8" y="330.2" font-size="8.30" text-anchor="middle" >-10</text><text x="211.5" y="330.2" font-size="8.30" text-anchor="middle" >-8</text><text x="251.3" y="330.2" font-size="8.30" text-anchor="middle" >-6</text><text x="291.1" y="330.2" font-size="8.30" text-anchor="middle" >-4</text><text x="330.8" y="330.2" font-size="8.30" text-anchor="middle" >-2</text><text x="370.6" y="330.2" font-size="8.30" text-anchor="middle" >0</text><text x="31.2" y="358.5" font-size="9.20" text-anchor="end" >.5</text><text x="31.2" y="390.1" font-size="9.20" text-anchor="end" >0</text><text x="31.2" y="421.7" font-size="9.20" text-anchor="end" >-.5</text><text x="31.2" y="432.0" font-size="9.20" text-anchor="end" >.5</text><text x="31.2" y="463.6" font-size="9.20" text-anchor="end" >0</text><text x="31.2" y="495.2" font-size="9.20" text-anchor="end" >-.5</text><text x="56.0" y="502.6" font-size="9.00" text-anchor="middle" >0.5</text><text x="100.9" y="502.6" font-size="9.00" text-anchor="middle" >1</text><text x="145.8" y="502.6" font-size="9.00" text-anchor="middle" >1.5</text><text x="190.8" y="502.6" font-size="9.00" text-anchor="middle" >2</text><text x="235.7" y="502.6" font-size="9.00" text-anchor="middle" >2.5</text><text x="280.6" y="502.6" font-size="9.00" text-anchor="middle" >3</text><text x="325.6" y="502.6" font-size="9.00" text-anchor="middle" >3.5</text><text x="370.5" y="502.6" font-size="9.00" text-anchor="middle" >4</text><text x="41.8" y="411.9" font-size="10.80" text-anchor="start" style="fill:#fff;stroke:#fff;stroke-width:0.35px">(c1)</text><text x="41.8" y="485.9" font-size="10.80" text-anchor="start" style="fill:#fff;stroke:#fff;stroke-width:0.35px">(c2)</text><text class="sf" transform="translate(11.9,140.6) rotate(-90)" font-size="10.3" textLength="138.6" lengthAdjust="spacingAndGlyphs">Peak Power |<tspan font-style="italic">ψ</tspan><tspan font-size="7.5" dy="2.6">B</tspan><tspan dy="-2.6">(t=0)|</tspan><tspan font-size="7.5" dy="-4.5">2</tspan><tspan dy="4.5">, |<tspan font-style="italic">ψ</tspan>'</tspan><tspan font-size="7.5" dy="2.6">B</tspan><tspan dy="-2.6">(t=0)|</tspan><tspan font-size="7.5" dy="-4.5">2</tspan></text><text class="sf" transform="translate(14.4,233.9) rotate(-90)" font-size="10" textLength="65" lengthAdjust="spacingAndGlyphs">Extinction Ratio</text><text class="sf" transform="translate(12.9,475.8) rotate(-90)" font-size="9.6" textLength="95.4" lengthAdjust="spacingAndGlyphs">Normalized time ( <tspan font-style="italic">t</tspan>/<tspan font-style="italic">T</tspan><tspan font-style="italic" font-size="6.5" dy="2.5">0</tspan><tspan dy="-2.5">)</tspan></text></svg>
</body></html>
